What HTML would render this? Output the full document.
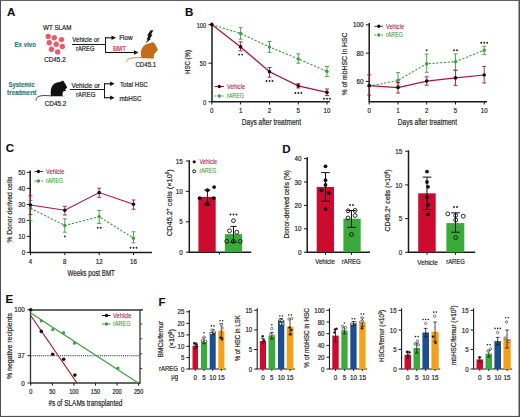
<!DOCTYPE html>
<html><head><meta charset="utf-8"><style>
html,body{margin:0;padding:0;background:#fff;}
svg{display:block;}
text{font-family:"Liberation Sans",sans-serif;}
</style></head><body>
<svg width="520" height="417" viewBox="0 0 520 417">
<rect width="520" height="417" fill="#fff"/>
<text transform="translate(6.9,16.1) scale(1.1,1)" x="0" y="0" font-size="10.5" fill="#111" text-anchor="start" stroke="#111" stroke-width="0.12" font-weight="bold">A</text>
<text x="43.1" y="29.9" font-size="7" fill="#262626" text-anchor="start" stroke="#262626" stroke-width="0.2" textLength="28.4" lengthAdjust="spacingAndGlyphs">WT SLAM</text>
<circle cx="48.2" cy="36.5" r="2.7" fill="#e85a6c" stroke="none" stroke-width="0"/>
<circle cx="54.3" cy="37.8" r="2.7" fill="#e85a6c" stroke="none" stroke-width="0"/>
<circle cx="61.5" cy="39.6" r="2.7" fill="#e85a6c" stroke="none" stroke-width="0"/>
<circle cx="49.2" cy="42.7" r="2.7" fill="#e85a6c" stroke="none" stroke-width="0"/>
<circle cx="56.2" cy="44.2" r="2.7" fill="#e85a6c" stroke="none" stroke-width="0"/>
<circle cx="62.3" cy="46.5" r="2.7" fill="#e85a6c" stroke="none" stroke-width="0"/>
<circle cx="51.5" cy="49.2" r="2.7" fill="#e85a6c" stroke="none" stroke-width="0"/>
<circle cx="57.7" cy="51.9" r="2.7" fill="#e85a6c" stroke="none" stroke-width="0"/>
<text x="44.2" y="62.0" font-size="7" fill="#262626" text-anchor="start" stroke="#262626" stroke-width="0.2" textLength="21.5" lengthAdjust="spacingAndGlyphs">CD45.2</text>
<text x="14.5" y="46.6" font-size="6.6" fill="#1e7a70" text-anchor="start" stroke="#1e7a70" stroke-width="0.12" font-weight="bold" textLength="21.5" lengthAdjust="spacingAndGlyphs">Ex vivo</text>
<line x1="72.0" y1="44.5" x2="105.5" y2="44.5" stroke="#1a1a1a" stroke-width="1.0" stroke-linecap="butt"/>
<text x="72.3" y="42.3" font-size="7" fill="#262626" text-anchor="start" stroke="#262626" stroke-width="0.2" textLength="26.9" lengthAdjust="spacingAndGlyphs">Vehicle or</text>
<text x="76.0" y="51.2" font-size="7" fill="#262626" text-anchor="start" stroke="#262626" stroke-width="0.2" textLength="18.6" lengthAdjust="spacingAndGlyphs">rAREG</text>
<line x1="105.5" y1="37.3" x2="105.5" y2="53.0" stroke="#1a1a1a" stroke-width="1.0" stroke-linecap="butt"/>
<line x1="105.0" y1="37.8" x2="112.5" y2="37.8" stroke="#111" stroke-width="1.1" stroke-linecap="butt"/>
<path d="M116.0,37.8 L111.5,35.599999999999994 L111.5,40.0 Z" fill="#111" stroke="none" stroke-width="1" />
<line x1="105.0" y1="52.5" x2="135.0" y2="52.5" stroke="#111" stroke-width="1.1" stroke-linecap="butt"/>
<path d="M138.5,52.5 L134.0,50.3 L134.0,54.7 Z" fill="#111" stroke="none" stroke-width="1" />
<text x="119.2" y="40.2" font-size="7" fill="#262626" text-anchor="start" stroke="#262626" stroke-width="0.2" textLength="13.4" lengthAdjust="spacingAndGlyphs">Flow</text>
<text x="113.0" y="50.6" font-size="7" fill="#d2303c" text-anchor="start" stroke="#d2303c" stroke-width="0.2" textLength="13" lengthAdjust="spacingAndGlyphs">BMT</text>
<path d="M150.6,30.2 L153.4,30.2 L150.9,34.6 L152.6,34.6 L149.6,38.9 L151.0,38.9 L145.3,43.6 L147.9,39.6 L146.5,39.6 L148.6,35.6 L147.1,35.6 Z" fill="#111" stroke="none" stroke-width="1" />
<path d="M141.6,58.3 C140.5,55 140.5,50.5 142.1,48.2 C143.3,46 144.5,45 145.9,44.4 C147.8,43.5 149.3,43.2 150.7,43.3 C151.3,42.6 152,42.2 152.6,42.3 C153.5,42.4 154.2,42.8 154.5,43.4 C155.3,44.2 155.8,45 156.1,46 C156.8,47.3 157.5,48.6 157.9,49.8 C157.2,51 156.4,51.8 155.6,52.5 C155,53 154.4,53.5 154.2,54.2 C154,55.5 153.8,56.5 153.6,57.4 L154.8,58.4 Z" fill="#c46c1c" stroke="none" stroke-width="1" />
<path d="M141.8,57.7 C136,57.4 131,57.8 128.5,59 C127,59.8 126.5,61 126.6,62.2" fill="none" stroke="#c46c1c" stroke-width="0.8" />
<text x="135.4" y="67.0" font-size="7" fill="#262626" text-anchor="start" stroke="#262626" stroke-width="0.2" textLength="20.8" lengthAdjust="spacingAndGlyphs">CD45.1</text>
<text x="8.5" y="86.9" font-size="6.6" fill="#1e7a70" text-anchor="start" stroke="#1e7a70" stroke-width="0.12" font-weight="bold" textLength="26.0" lengthAdjust="spacingAndGlyphs">Systemic</text>
<text x="7.0" y="94.5" font-size="6.6" fill="#1e7a70" text-anchor="start" stroke="#1e7a70" stroke-width="0.12" font-weight="bold" textLength="29.5" lengthAdjust="spacingAndGlyphs">treatment</text>
<path d="M51.2,96.3 C50.4,94 50.5,89.5 51.6,87.3 C52.4,85.6 53.2,84.6 54.3,83.8 C55.5,83 56.8,82.5 58.2,82.3 C59.5,82 60.5,81.8 61.6,81.2 C62.3,80.6 63.2,80.7 63.6,81.2 C64.2,81.8 64.5,82.5 64.7,83.1 C65.3,83.9 65.8,84.6 66.2,85.4 C66.6,86.2 67,87 67.2,87.7 C66.5,88.4 65.8,88.8 65.1,89.2 C65.5,89.7 65.9,90.3 65.8,90.8 C64.9,91.2 64,91.3 63.2,91.5 C62.8,92.5 62.5,93.4 62.4,94.2 C62.4,95 62.6,95.6 62.8,96 L64.6,96.3 Z" fill="#111" stroke="none" stroke-width="1" />
<path d="M51.5,95.9 C46,95.4 41,95.3 38.5,96.5 C36.5,97.5 35.8,99 36.3,100.6" fill="none" stroke="#111" stroke-width="0.8" />
<text x="44.8" y="105.6" font-size="7" fill="#262626" text-anchor="start" stroke="#262626" stroke-width="0.2" textLength="21.4" lengthAdjust="spacingAndGlyphs">CD45.2</text>
<line x1="70.0" y1="89.5" x2="104.5" y2="89.5" stroke="#1a1a1a" stroke-width="1.0" stroke-linecap="butt"/>
<text x="71.5" y="87.5" font-size="7" fill="#262626" text-anchor="start" stroke="#262626" stroke-width="0.2" textLength="28.5" lengthAdjust="spacingAndGlyphs">Vehicle or</text>
<text x="76.0" y="97.0" font-size="7" fill="#262626" text-anchor="start" stroke="#262626" stroke-width="0.2" textLength="19.4" lengthAdjust="spacingAndGlyphs">rAREG</text>
<line x1="104.5" y1="83.3" x2="104.5" y2="98.2" stroke="#1a1a1a" stroke-width="1.0" stroke-linecap="butt"/>
<line x1="104.0" y1="83.8" x2="111.1" y2="83.8" stroke="#111" stroke-width="1.1" stroke-linecap="butt"/>
<path d="M114.6,83.8 L110.1,81.6 L110.1,86.0 Z" fill="#111" stroke="none" stroke-width="1" />
<line x1="104.0" y1="97.7" x2="111.1" y2="97.7" stroke="#111" stroke-width="1.1" stroke-linecap="butt"/>
<path d="M114.6,97.7 L110.1,95.5 L110.1,99.9 Z" fill="#111" stroke="none" stroke-width="1" />
<text x="120.0" y="87.2" font-size="7" fill="#262626" text-anchor="start" stroke="#262626" stroke-width="0.2" textLength="27.7" lengthAdjust="spacingAndGlyphs">Total HSC</text>
<text x="119.5" y="100.5" font-size="7" fill="#262626" text-anchor="start" stroke="#262626" stroke-width="0.2" textLength="22" lengthAdjust="spacingAndGlyphs">mbHSC</text>
<text transform="translate(184.9,16.2) scale(1.1,1)" x="0" y="0" font-size="10.5" fill="#111" text-anchor="start" stroke="#111" stroke-width="0.12" font-weight="bold">B</text>
<line x1="212" y1="22.5" x2="212" y2="101.8" stroke="#1a1a1a" stroke-width="1.5" stroke-linecap="butt"/>
<line x1="211.4" y1="101.8" x2="330" y2="101.8" stroke="#1a1a1a" stroke-width="1.5" stroke-linecap="butt"/>
<line x1="208.5" y1="24.6" x2="212" y2="24.6" stroke="#1a1a1a" stroke-width="1.0" stroke-linecap="butt"/>
<text x="206.0" y="27.6" font-size="7" fill="#262626" text-anchor="end" stroke="#262626" stroke-width="0.2" textLength="9.3" lengthAdjust="spacingAndGlyphs">100</text>
<line x1="208.5" y1="63.2" x2="212" y2="63.2" stroke="#1a1a1a" stroke-width="1.0" stroke-linecap="butt"/>
<text x="206.0" y="66.2" font-size="7" fill="#262626" text-anchor="end" stroke="#262626" stroke-width="0.2" textLength="6.2" lengthAdjust="spacingAndGlyphs">50</text>
<line x1="208.5" y1="101.8" x2="212" y2="101.8" stroke="#1a1a1a" stroke-width="1.0" stroke-linecap="butt"/>
<text x="206.0" y="104.8" font-size="7" fill="#262626" text-anchor="end" stroke="#262626" stroke-width="0.2" textLength="3.1" lengthAdjust="spacingAndGlyphs">0</text>
<line x1="211.8" y1="101.8" x2="211.8" y2="104.5" stroke="#1a1a1a" stroke-width="1.0" stroke-linecap="butt"/>
<text x="211.8" y="113.3" font-size="7" fill="#262626" text-anchor="middle" stroke="#262626" stroke-width="0.2" textLength="3.4" lengthAdjust="spacingAndGlyphs">0</text>
<line x1="240.6" y1="101.8" x2="240.6" y2="104.5" stroke="#1a1a1a" stroke-width="1.0" stroke-linecap="butt"/>
<text x="240.6" y="113.3" font-size="7" fill="#262626" text-anchor="middle" stroke="#262626" stroke-width="0.2" textLength="3.4" lengthAdjust="spacingAndGlyphs">1</text>
<line x1="269.5" y1="101.8" x2="269.5" y2="104.5" stroke="#1a1a1a" stroke-width="1.0" stroke-linecap="butt"/>
<text x="269.5" y="113.3" font-size="7" fill="#262626" text-anchor="middle" stroke="#262626" stroke-width="0.2" textLength="3.4" lengthAdjust="spacingAndGlyphs">2</text>
<line x1="298.3" y1="101.8" x2="298.3" y2="104.5" stroke="#1a1a1a" stroke-width="1.0" stroke-linecap="butt"/>
<text x="298.3" y="113.3" font-size="7" fill="#262626" text-anchor="middle" stroke="#262626" stroke-width="0.2" textLength="3.4" lengthAdjust="spacingAndGlyphs">5</text>
<line x1="327.0" y1="101.8" x2="327.0" y2="104.5" stroke="#1a1a1a" stroke-width="1.0" stroke-linecap="butt"/>
<text x="327.0" y="113.3" font-size="7" fill="#262626" text-anchor="middle" stroke="#262626" stroke-width="0.2" textLength="6.8" lengthAdjust="spacingAndGlyphs">10</text>
<text x="271.4" y="125.0" font-size="8.5" fill="#262626" text-anchor="middle" stroke="#262626" stroke-width="0.2" textLength="59.2" lengthAdjust="spacingAndGlyphs">Days after treatment</text>
<text transform="translate(190.4,62) rotate(-90)" x="0" y="0" font-size="8" fill="#262626" text-anchor="middle" stroke="#262626" stroke-width="0.2" textLength="24" lengthAdjust="spacingAndGlyphs">HSC (%)</text>
<polyline points="211.8,24.6 240.6,33.5 269.5,47.0 298.3,58.9 327.0,71.4" fill="none" stroke="#3c9e3c" stroke-width="1.1" stroke-dasharray="2.2,1.6"/>
<line x1="240.6" y1="27.7" x2="240.6" y2="39.2" stroke="#3c9e3c" stroke-width="0.9" stroke-linecap="butt"/>
<line x1="238.6" y1="27.7" x2="242.6" y2="27.7" stroke="#3c9e3c" stroke-width="0.9" stroke-linecap="butt"/>
<line x1="238.6" y1="39.2" x2="242.6" y2="39.2" stroke="#3c9e3c" stroke-width="0.9" stroke-linecap="butt"/>
<line x1="269.5" y1="41.6" x2="269.5" y2="52.4" stroke="#3c9e3c" stroke-width="0.9" stroke-linecap="butt"/>
<line x1="267.5" y1="41.6" x2="271.5" y2="41.6" stroke="#3c9e3c" stroke-width="0.9" stroke-linecap="butt"/>
<line x1="267.5" y1="52.4" x2="271.5" y2="52.4" stroke="#3c9e3c" stroke-width="0.9" stroke-linecap="butt"/>
<line x1="298.3" y1="53.9" x2="298.3" y2="63.2" stroke="#3c9e3c" stroke-width="0.9" stroke-linecap="butt"/>
<line x1="296.3" y1="53.9" x2="300.3" y2="53.9" stroke="#3c9e3c" stroke-width="0.9" stroke-linecap="butt"/>
<line x1="296.3" y1="63.2" x2="300.3" y2="63.2" stroke="#3c9e3c" stroke-width="0.9" stroke-linecap="butt"/>
<line x1="327.0" y1="66.4" x2="327.0" y2="76.6" stroke="#3c9e3c" stroke-width="0.9" stroke-linecap="butt"/>
<line x1="325.0" y1="66.4" x2="329.0" y2="66.4" stroke="#3c9e3c" stroke-width="0.9" stroke-linecap="butt"/>
<line x1="325.0" y1="76.6" x2="329.0" y2="76.6" stroke="#3c9e3c" stroke-width="0.9" stroke-linecap="butt"/>
<circle cx="211.8" cy="24.6" r="1.7" fill="#3c9e3c" stroke="none" stroke-width="0"/>
<circle cx="240.6" cy="33.5" r="1.7" fill="#3c9e3c" stroke="none" stroke-width="0"/>
<circle cx="269.5" cy="47.0" r="1.7" fill="#3c9e3c" stroke="none" stroke-width="0"/>
<circle cx="298.3" cy="58.9" r="1.7" fill="#3c9e3c" stroke="none" stroke-width="0"/>
<circle cx="327.0" cy="71.4" r="1.7" fill="#3c9e3c" stroke="none" stroke-width="0"/>
<polyline points="211.8,24.6 240.6,46.9 269.5,71.8 298.3,85.9 327.0,92.4" fill="none" stroke="#a8163a" stroke-width="1.3"/>
<line x1="240.6" y1="41.8" x2="240.6" y2="50.8" stroke="#a8163a" stroke-width="0.9" stroke-linecap="butt"/>
<line x1="238.6" y1="41.8" x2="242.6" y2="41.8" stroke="#a8163a" stroke-width="0.9" stroke-linecap="butt"/>
<line x1="238.6" y1="50.8" x2="242.6" y2="50.8" stroke="#a8163a" stroke-width="0.9" stroke-linecap="butt"/>
<line x1="269.5" y1="67.5" x2="269.5" y2="77.2" stroke="#a8163a" stroke-width="0.9" stroke-linecap="butt"/>
<line x1="267.5" y1="67.5" x2="271.5" y2="67.5" stroke="#a8163a" stroke-width="0.9" stroke-linecap="butt"/>
<line x1="267.5" y1="77.2" x2="271.5" y2="77.2" stroke="#a8163a" stroke-width="0.9" stroke-linecap="butt"/>
<line x1="298.3" y1="83.7" x2="298.3" y2="88.0" stroke="#a8163a" stroke-width="0.9" stroke-linecap="butt"/>
<line x1="296.3" y1="83.7" x2="300.3" y2="83.7" stroke="#a8163a" stroke-width="0.9" stroke-linecap="butt"/>
<line x1="296.3" y1="88.0" x2="300.3" y2="88.0" stroke="#a8163a" stroke-width="0.9" stroke-linecap="butt"/>
<line x1="327.0" y1="89.0" x2="327.0" y2="95.6" stroke="#a8163a" stroke-width="0.9" stroke-linecap="butt"/>
<line x1="325.0" y1="89.0" x2="329.0" y2="89.0" stroke="#a8163a" stroke-width="0.9" stroke-linecap="butt"/>
<line x1="325.0" y1="95.6" x2="329.0" y2="95.6" stroke="#a8163a" stroke-width="0.9" stroke-linecap="butt"/>
<circle cx="211.8" cy="24.6" r="1.8" fill="#111" stroke="none" stroke-width="0"/>
<circle cx="240.6" cy="46.9" r="1.8" fill="#111" stroke="none" stroke-width="0"/>
<circle cx="269.5" cy="71.8" r="1.8" fill="#111" stroke="none" stroke-width="0"/>
<circle cx="298.3" cy="85.9" r="1.8" fill="#111" stroke="none" stroke-width="0"/>
<circle cx="327.0" cy="92.4" r="1.8" fill="#111" stroke="none" stroke-width="0"/>
<circle cx="239.1" cy="54.6" r="0.95" fill="#222" stroke="none" stroke-width="0"/>
<circle cx="242.1" cy="54.6" r="0.95" fill="#222" stroke="none" stroke-width="0"/>
<circle cx="266.5" cy="81" r="0.95" fill="#222" stroke="none" stroke-width="0"/>
<circle cx="269.5" cy="81" r="0.95" fill="#222" stroke="none" stroke-width="0"/>
<circle cx="272.5" cy="81" r="0.95" fill="#222" stroke="none" stroke-width="0"/>
<circle cx="295.3" cy="93" r="0.95" fill="#222" stroke="none" stroke-width="0"/>
<circle cx="298.3" cy="93" r="0.95" fill="#222" stroke="none" stroke-width="0"/>
<circle cx="301.3" cy="93" r="0.95" fill="#222" stroke="none" stroke-width="0"/>
<circle cx="324.0" cy="98.8" r="0.95" fill="#222" stroke="none" stroke-width="0"/>
<circle cx="327.0" cy="98.8" r="0.95" fill="#222" stroke="none" stroke-width="0"/>
<circle cx="330.0" cy="98.8" r="0.95" fill="#222" stroke="none" stroke-width="0"/>
<line x1="214.5" y1="86.5" x2="224" y2="86.5" stroke="#a8163a" stroke-width="1.0" stroke-linecap="butt"/>
<circle cx="219.3" cy="86.5" r="1.7" fill="#111" stroke="none" stroke-width="0"/>
<text x="227" y="88.8" font-size="6.5" fill="#a8163a" text-anchor="start" stroke="#a8163a" stroke-width="0.1" textLength="18" lengthAdjust="spacingAndGlyphs">Vehicle</text>
<line x1="214.5" y1="96.0" x2="224" y2="96.0" stroke="#3c9e3c" stroke-width="1.0" stroke-dasharray="2,1.5" stroke-linecap="butt"/>
<circle cx="219.3" cy="96.0" r="1.7" fill="#3c9e3c" stroke="none" stroke-width="0"/>
<text x="227" y="98.3" font-size="6.5" fill="#3c9e3c" text-anchor="start" stroke="#3c9e3c" stroke-width="0.1" textLength="17" lengthAdjust="spacingAndGlyphs">rAREG</text>
<line x1="369.2" y1="23.0" x2="369.2" y2="101.8" stroke="#1a1a1a" stroke-width="1.5" stroke-linecap="butt"/>
<line x1="368.6" y1="101.8" x2="487" y2="101.8" stroke="#1a1a1a" stroke-width="1.5" stroke-linecap="butt"/>
<line x1="365.8" y1="24.8" x2="369.2" y2="24.8" stroke="#1a1a1a" stroke-width="1.0" stroke-linecap="butt"/>
<text x="363.5" y="27.400000000000002" font-size="7" fill="#262626" text-anchor="end" stroke="#262626" stroke-width="0.2" textLength="10.5" lengthAdjust="spacingAndGlyphs">100</text>
<line x1="365.8" y1="53.1" x2="369.2" y2="53.1" stroke="#1a1a1a" stroke-width="1.0" stroke-linecap="butt"/>
<text x="363.5" y="55.7" font-size="7" fill="#262626" text-anchor="end" stroke="#262626" stroke-width="0.2" textLength="7.0" lengthAdjust="spacingAndGlyphs">80</text>
<line x1="365.8" y1="81.4" x2="369.2" y2="81.4" stroke="#1a1a1a" stroke-width="1.0" stroke-linecap="butt"/>
<text x="363.5" y="84.0" font-size="7" fill="#262626" text-anchor="end" stroke="#262626" stroke-width="0.2" textLength="7.0" lengthAdjust="spacingAndGlyphs">60</text>
<line x1="369.2" y1="101.8" x2="369.2" y2="104.5" stroke="#1a1a1a" stroke-width="1.0" stroke-linecap="butt"/>
<text x="369.2" y="113.3" font-size="7" fill="#262626" text-anchor="middle" stroke="#262626" stroke-width="0.2" textLength="3.4" lengthAdjust="spacingAndGlyphs">0</text>
<line x1="398.0" y1="101.8" x2="398.0" y2="104.5" stroke="#1a1a1a" stroke-width="1.0" stroke-linecap="butt"/>
<text x="398.0" y="113.3" font-size="7" fill="#262626" text-anchor="middle" stroke="#262626" stroke-width="0.2" textLength="3.4" lengthAdjust="spacingAndGlyphs">1</text>
<line x1="426.7" y1="101.8" x2="426.7" y2="104.5" stroke="#1a1a1a" stroke-width="1.0" stroke-linecap="butt"/>
<text x="426.7" y="113.3" font-size="7" fill="#262626" text-anchor="middle" stroke="#262626" stroke-width="0.2" textLength="3.4" lengthAdjust="spacingAndGlyphs">2</text>
<line x1="455.5" y1="101.8" x2="455.5" y2="104.5" stroke="#1a1a1a" stroke-width="1.0" stroke-linecap="butt"/>
<text x="455.5" y="113.3" font-size="7" fill="#262626" text-anchor="middle" stroke="#262626" stroke-width="0.2" textLength="3.4" lengthAdjust="spacingAndGlyphs">5</text>
<line x1="484.2" y1="101.8" x2="484.2" y2="104.5" stroke="#1a1a1a" stroke-width="1.0" stroke-linecap="butt"/>
<text x="484.2" y="113.3" font-size="7" fill="#262626" text-anchor="middle" stroke="#262626" stroke-width="0.2" textLength="6.8" lengthAdjust="spacingAndGlyphs">10</text>
<text x="427.4" y="125.0" font-size="8.5" fill="#262626" text-anchor="middle" stroke="#262626" stroke-width="0.2" textLength="59.2" lengthAdjust="spacingAndGlyphs">Days after treatment</text>
<text transform="translate(347.0,64) rotate(-90)" x="0" y="0" font-size="8" fill="#262626" text-anchor="middle" stroke="#262626" stroke-width="0.2" textLength="63" lengthAdjust="spacingAndGlyphs">% of mbHSC in HSC</text>
<polyline points="369.2,86.3 398.0,80.4 426.7,63.8 455.5,61.7 484.2,50.2" fill="none" stroke="#3c9e3c" stroke-width="1.1" stroke-dasharray="2.2,1.6"/>
<line x1="398.0" y1="72.6" x2="398.0" y2="86" stroke="#3c9e3c" stroke-width="0.9" stroke-linecap="butt"/>
<line x1="396.0" y1="72.6" x2="400.0" y2="72.6" stroke="#3c9e3c" stroke-width="0.9" stroke-linecap="butt"/>
<line x1="396.0" y1="86" x2="400.0" y2="86" stroke="#3c9e3c" stroke-width="0.9" stroke-linecap="butt"/>
<line x1="426.7" y1="54.1" x2="426.7" y2="72.3" stroke="#3c9e3c" stroke-width="0.9" stroke-linecap="butt"/>
<line x1="424.7" y1="54.1" x2="428.7" y2="54.1" stroke="#3c9e3c" stroke-width="0.9" stroke-linecap="butt"/>
<line x1="424.7" y1="72.3" x2="428.7" y2="72.3" stroke="#3c9e3c" stroke-width="0.9" stroke-linecap="butt"/>
<line x1="455.5" y1="53.9" x2="455.5" y2="70.1" stroke="#3c9e3c" stroke-width="0.9" stroke-linecap="butt"/>
<line x1="453.5" y1="53.9" x2="457.5" y2="53.9" stroke="#3c9e3c" stroke-width="0.9" stroke-linecap="butt"/>
<line x1="453.5" y1="70.1" x2="457.5" y2="70.1" stroke="#3c9e3c" stroke-width="0.9" stroke-linecap="butt"/>
<line x1="484.2" y1="46.3" x2="484.2" y2="54.6" stroke="#3c9e3c" stroke-width="0.9" stroke-linecap="butt"/>
<line x1="482.2" y1="46.3" x2="486.2" y2="46.3" stroke="#3c9e3c" stroke-width="0.9" stroke-linecap="butt"/>
<line x1="482.2" y1="54.6" x2="486.2" y2="54.6" stroke="#3c9e3c" stroke-width="0.9" stroke-linecap="butt"/>
<circle cx="369.2" cy="86.3" r="1.7" fill="#3c9e3c" stroke="none" stroke-width="0"/>
<circle cx="398.0" cy="80.4" r="1.7" fill="#3c9e3c" stroke="none" stroke-width="0"/>
<circle cx="426.7" cy="63.8" r="1.7" fill="#3c9e3c" stroke="none" stroke-width="0"/>
<circle cx="455.5" cy="61.7" r="1.7" fill="#3c9e3c" stroke="none" stroke-width="0"/>
<circle cx="484.2" cy="50.2" r="1.7" fill="#3c9e3c" stroke="none" stroke-width="0"/>
<polyline points="369.2,85.6 398.0,87.6 426.7,81.1 455.5,77.9 484.2,75.0" fill="none" stroke="#a8163a" stroke-width="1.1"/>
<line x1="369.2" y1="74.8" x2="369.2" y2="95.2" stroke="#a8163a" stroke-width="0.9" stroke-linecap="butt"/>
<line x1="367.2" y1="74.8" x2="371.2" y2="74.8" stroke="#a8163a" stroke-width="0.9" stroke-linecap="butt"/>
<line x1="367.2" y1="95.2" x2="371.2" y2="95.2" stroke="#a8163a" stroke-width="0.9" stroke-linecap="butt"/>
<line x1="398.0" y1="82.5" x2="398.0" y2="93.0" stroke="#a8163a" stroke-width="0.9" stroke-linecap="butt"/>
<line x1="396.0" y1="82.5" x2="400.0" y2="82.5" stroke="#a8163a" stroke-width="0.9" stroke-linecap="butt"/>
<line x1="396.0" y1="93.0" x2="400.0" y2="93.0" stroke="#a8163a" stroke-width="0.9" stroke-linecap="butt"/>
<line x1="426.7" y1="76.8" x2="426.7" y2="85.2" stroke="#a8163a" stroke-width="0.9" stroke-linecap="butt"/>
<line x1="424.7" y1="76.8" x2="428.7" y2="76.8" stroke="#a8163a" stroke-width="0.9" stroke-linecap="butt"/>
<line x1="424.7" y1="85.2" x2="428.7" y2="85.2" stroke="#a8163a" stroke-width="0.9" stroke-linecap="butt"/>
<line x1="455.5" y1="70.3" x2="455.5" y2="85.4" stroke="#a8163a" stroke-width="0.9" stroke-linecap="butt"/>
<line x1="453.5" y1="70.3" x2="457.5" y2="70.3" stroke="#a8163a" stroke-width="0.9" stroke-linecap="butt"/>
<line x1="453.5" y1="85.4" x2="457.5" y2="85.4" stroke="#a8163a" stroke-width="0.9" stroke-linecap="butt"/>
<line x1="484.2" y1="66.4" x2="484.2" y2="83.0" stroke="#a8163a" stroke-width="0.9" stroke-linecap="butt"/>
<line x1="482.2" y1="66.4" x2="486.2" y2="66.4" stroke="#a8163a" stroke-width="0.9" stroke-linecap="butt"/>
<line x1="482.2" y1="83.0" x2="486.2" y2="83.0" stroke="#a8163a" stroke-width="0.9" stroke-linecap="butt"/>
<circle cx="369.2" cy="85.6" r="1.8" fill="#111" stroke="none" stroke-width="0"/>
<circle cx="398.0" cy="87.6" r="1.8" fill="#111" stroke="none" stroke-width="0"/>
<circle cx="426.7" cy="81.1" r="1.8" fill="#111" stroke="none" stroke-width="0"/>
<circle cx="455.5" cy="77.9" r="1.8" fill="#111" stroke="none" stroke-width="0"/>
<circle cx="484.2" cy="75.0" r="1.8" fill="#111" stroke="none" stroke-width="0"/>
<circle cx="426.7" cy="50.2" r="0.95" fill="#222" stroke="none" stroke-width="0"/>
<circle cx="454.0" cy="50.2" r="0.95" fill="#222" stroke="none" stroke-width="0"/>
<circle cx="457.0" cy="50.2" r="0.95" fill="#222" stroke="none" stroke-width="0"/>
<circle cx="481.2" cy="42.7" r="0.95" fill="#222" stroke="none" stroke-width="0"/>
<circle cx="484.2" cy="42.7" r="0.95" fill="#222" stroke="none" stroke-width="0"/>
<circle cx="487.2" cy="42.7" r="0.95" fill="#222" stroke="none" stroke-width="0"/>
<line x1="374.3" y1="26.3" x2="383" y2="26.3" stroke="#a8163a" stroke-width="1.0" stroke-linecap="butt"/>
<circle cx="378.8" cy="26.3" r="1.7" fill="#111" stroke="none" stroke-width="0"/>
<text x="386" y="28.6" font-size="6.5" fill="#a8163a" text-anchor="start" stroke="#a8163a" stroke-width="0.1" textLength="18" lengthAdjust="spacingAndGlyphs">Vehicle</text>
<line x1="374.3" y1="35.0" x2="383" y2="35.0" stroke="#3c9e3c" stroke-width="1.0" stroke-dasharray="2,1.5" stroke-linecap="butt"/>
<circle cx="378.8" cy="35.0" r="1.7" fill="#3c9e3c" stroke="none" stroke-width="0"/>
<text x="386" y="37.3" font-size="6.5" fill="#3c9e3c" text-anchor="start" stroke="#3c9e3c" stroke-width="0.1" textLength="17" lengthAdjust="spacingAndGlyphs">rAREG</text>
<text transform="translate(5.8,152.3) scale(1.1,1)" x="0" y="0" font-size="10.5" fill="#111" text-anchor="start" stroke="#111" stroke-width="0.12" font-weight="bold">C</text>
<line x1="30.2" y1="170.5" x2="30.2" y2="252.4" stroke="#1a1a1a" stroke-width="1.5" stroke-linecap="butt"/>
<line x1="29.6" y1="252.4" x2="152" y2="252.4" stroke="#1a1a1a" stroke-width="1.5" stroke-linecap="butt"/>
<line x1="26.8" y1="252.4" x2="30.2" y2="252.4" stroke="#1a1a1a" stroke-width="1.0" stroke-linecap="butt"/>
<text x="25.3" y="255.0" font-size="7" fill="#262626" text-anchor="end" stroke="#262626" stroke-width="0.2" textLength="3.5" lengthAdjust="spacingAndGlyphs">0</text>
<line x1="26.8" y1="236.4" x2="30.2" y2="236.4" stroke="#1a1a1a" stroke-width="1.0" stroke-linecap="butt"/>
<text x="25.3" y="239.0" font-size="7" fill="#262626" text-anchor="end" stroke="#262626" stroke-width="0.2" textLength="7.0" lengthAdjust="spacingAndGlyphs">10</text>
<line x1="26.8" y1="220.4" x2="30.2" y2="220.4" stroke="#1a1a1a" stroke-width="1.0" stroke-linecap="butt"/>
<text x="25.3" y="223.0" font-size="7" fill="#262626" text-anchor="end" stroke="#262626" stroke-width="0.2" textLength="7.0" lengthAdjust="spacingAndGlyphs">20</text>
<line x1="26.8" y1="204.4" x2="30.2" y2="204.4" stroke="#1a1a1a" stroke-width="1.0" stroke-linecap="butt"/>
<text x="25.3" y="207.0" font-size="7" fill="#262626" text-anchor="end" stroke="#262626" stroke-width="0.2" textLength="7.0" lengthAdjust="spacingAndGlyphs">30</text>
<line x1="26.8" y1="188.4" x2="30.2" y2="188.4" stroke="#1a1a1a" stroke-width="1.0" stroke-linecap="butt"/>
<text x="25.3" y="191.0" font-size="7" fill="#262626" text-anchor="end" stroke="#262626" stroke-width="0.2" textLength="7.0" lengthAdjust="spacingAndGlyphs">40</text>
<line x1="26.8" y1="172.4" x2="30.2" y2="172.4" stroke="#1a1a1a" stroke-width="1.0" stroke-linecap="butt"/>
<text x="25.3" y="175.0" font-size="7" fill="#262626" text-anchor="end" stroke="#262626" stroke-width="0.2" textLength="7.0" lengthAdjust="spacingAndGlyphs">50</text>
<line x1="30.5" y1="252.4" x2="30.5" y2="255.2" stroke="#1a1a1a" stroke-width="1.0" stroke-linecap="butt"/>
<text x="30.5" y="264.4" font-size="7" fill="#262626" text-anchor="middle" stroke="#262626" stroke-width="0.2" textLength="3.4" lengthAdjust="spacingAndGlyphs">4</text>
<line x1="64.8" y1="252.4" x2="64.8" y2="255.2" stroke="#1a1a1a" stroke-width="1.0" stroke-linecap="butt"/>
<text x="64.8" y="264.4" font-size="7" fill="#262626" text-anchor="middle" stroke="#262626" stroke-width="0.2" textLength="3.4" lengthAdjust="spacingAndGlyphs">8</text>
<line x1="99.2" y1="252.4" x2="99.2" y2="255.2" stroke="#1a1a1a" stroke-width="1.0" stroke-linecap="butt"/>
<text x="99.2" y="264.4" font-size="7" fill="#262626" text-anchor="middle" stroke="#262626" stroke-width="0.2" textLength="6.8" lengthAdjust="spacingAndGlyphs">12</text>
<line x1="133.5" y1="252.4" x2="133.5" y2="255.2" stroke="#1a1a1a" stroke-width="1.0" stroke-linecap="butt"/>
<text x="133.5" y="264.4" font-size="7" fill="#262626" text-anchor="middle" stroke="#262626" stroke-width="0.2" textLength="6.8" lengthAdjust="spacingAndGlyphs">16</text>
<text x="91.2" y="275.8" font-size="8.5" fill="#262626" text-anchor="middle" stroke="#262626" stroke-width="0.2" textLength="47.5" lengthAdjust="spacingAndGlyphs">Weeks post BMT</text>
<text transform="translate(12.4,209.7) rotate(-90)" x="0" y="0" font-size="8" fill="#262626" text-anchor="middle" stroke="#262626" stroke-width="0.2" textLength="66" lengthAdjust="spacingAndGlyphs">% Donor derived cells</text>
<polyline points="30.5,208.2 64.8,225.5 99.2,216.6 133.5,238.2" fill="none" stroke="#3c9e3c" stroke-width="1.1" stroke-dasharray="2.2,1.6"/>
<line x1="30.5" y1="200.5" x2="30.5" y2="220.7" stroke="#3c9e3c" stroke-width="0.9" stroke-linecap="butt"/>
<line x1="28.5" y1="200.5" x2="32.5" y2="200.5" stroke="#3c9e3c" stroke-width="0.9" stroke-linecap="butt"/>
<line x1="28.5" y1="220.7" x2="32.5" y2="220.7" stroke="#3c9e3c" stroke-width="0.9" stroke-linecap="butt"/>
<line x1="64.8" y1="218.8" x2="64.8" y2="232.2" stroke="#3c9e3c" stroke-width="0.9" stroke-linecap="butt"/>
<line x1="62.8" y1="218.8" x2="66.8" y2="218.8" stroke="#3c9e3c" stroke-width="0.9" stroke-linecap="butt"/>
<line x1="62.8" y1="232.2" x2="66.8" y2="232.2" stroke="#3c9e3c" stroke-width="0.9" stroke-linecap="butt"/>
<line x1="99.2" y1="210.5" x2="99.2" y2="223.5" stroke="#3c9e3c" stroke-width="0.9" stroke-linecap="butt"/>
<line x1="97.2" y1="210.5" x2="101.2" y2="210.5" stroke="#3c9e3c" stroke-width="0.9" stroke-linecap="butt"/>
<line x1="97.2" y1="223.5" x2="101.2" y2="223.5" stroke="#3c9e3c" stroke-width="0.9" stroke-linecap="butt"/>
<line x1="133.5" y1="231.8" x2="133.5" y2="242.9" stroke="#3c9e3c" stroke-width="0.9" stroke-linecap="butt"/>
<line x1="131.5" y1="231.8" x2="135.5" y2="231.8" stroke="#3c9e3c" stroke-width="0.9" stroke-linecap="butt"/>
<line x1="131.5" y1="242.9" x2="135.5" y2="242.9" stroke="#3c9e3c" stroke-width="0.9" stroke-linecap="butt"/>
<circle cx="30.5" cy="208.2" r="1.7" fill="#3c9e3c" stroke="none" stroke-width="0"/>
<circle cx="64.8" cy="225.5" r="1.7" fill="#3c9e3c" stroke="none" stroke-width="0"/>
<circle cx="99.2" cy="216.6" r="1.7" fill="#3c9e3c" stroke="none" stroke-width="0"/>
<circle cx="133.5" cy="238.2" r="1.7" fill="#3c9e3c" stroke="none" stroke-width="0"/>
<polyline points="30.5,205.0 64.8,210.2 99.2,192.6 133.5,204.2" fill="none" stroke="#a8163a" stroke-width="1.1"/>
<line x1="30.5" y1="195.8" x2="30.5" y2="214.6" stroke="#a8163a" stroke-width="0.9" stroke-linecap="butt"/>
<line x1="28.5" y1="195.8" x2="32.5" y2="195.8" stroke="#a8163a" stroke-width="0.9" stroke-linecap="butt"/>
<line x1="28.5" y1="214.6" x2="32.5" y2="214.6" stroke="#a8163a" stroke-width="0.9" stroke-linecap="butt"/>
<line x1="64.8" y1="206.3" x2="64.8" y2="215.0" stroke="#a8163a" stroke-width="0.9" stroke-linecap="butt"/>
<line x1="62.8" y1="206.3" x2="66.8" y2="206.3" stroke="#a8163a" stroke-width="0.9" stroke-linecap="butt"/>
<line x1="62.8" y1="215.0" x2="66.8" y2="215.0" stroke="#a8163a" stroke-width="0.9" stroke-linecap="butt"/>
<line x1="99.2" y1="188.2" x2="99.2" y2="197.3" stroke="#a8163a" stroke-width="0.9" stroke-linecap="butt"/>
<line x1="97.2" y1="188.2" x2="101.2" y2="188.2" stroke="#a8163a" stroke-width="0.9" stroke-linecap="butt"/>
<line x1="97.2" y1="197.3" x2="101.2" y2="197.3" stroke="#a8163a" stroke-width="0.9" stroke-linecap="butt"/>
<line x1="133.5" y1="200.0" x2="133.5" y2="209.2" stroke="#a8163a" stroke-width="0.9" stroke-linecap="butt"/>
<line x1="131.5" y1="200.0" x2="135.5" y2="200.0" stroke="#a8163a" stroke-width="0.9" stroke-linecap="butt"/>
<line x1="131.5" y1="209.2" x2="135.5" y2="209.2" stroke="#a8163a" stroke-width="0.9" stroke-linecap="butt"/>
<circle cx="30.5" cy="205.0" r="1.8" fill="#111" stroke="none" stroke-width="0"/>
<circle cx="64.8" cy="210.2" r="1.8" fill="#111" stroke="none" stroke-width="0"/>
<circle cx="99.2" cy="192.6" r="1.8" fill="#111" stroke="none" stroke-width="0"/>
<circle cx="133.5" cy="204.2" r="1.8" fill="#111" stroke="none" stroke-width="0"/>
<circle cx="64.8" cy="236.4" r="0.95" fill="#222" stroke="none" stroke-width="0"/>
<circle cx="97.7" cy="227.7" r="0.95" fill="#222" stroke="none" stroke-width="0"/>
<circle cx="100.7" cy="227.7" r="0.95" fill="#222" stroke="none" stroke-width="0"/>
<circle cx="130.5" cy="247.8" r="0.95" fill="#222" stroke="none" stroke-width="0"/>
<circle cx="133.5" cy="247.8" r="0.95" fill="#222" stroke="none" stroke-width="0"/>
<circle cx="136.5" cy="247.8" r="0.95" fill="#222" stroke="none" stroke-width="0"/>
<line x1="34.5" y1="171.5" x2="43.2" y2="171.5" stroke="#a8163a" stroke-width="1.0" stroke-linecap="butt"/>
<circle cx="38.4" cy="171.5" r="1.7" fill="#111" stroke="none" stroke-width="0"/>
<text x="46" y="173.8" font-size="6.5" fill="#a8163a" text-anchor="start" stroke="#a8163a" stroke-width="0.1" textLength="18.3" lengthAdjust="spacingAndGlyphs">Vehicle</text>
<line x1="34.5" y1="181.0" x2="43.2" y2="181.0" stroke="#3c9e3c" stroke-width="1.0" stroke-dasharray="2,1.5" stroke-linecap="butt"/>
<circle cx="38.4" cy="181.0" r="1.7" fill="#3c9e3c" stroke="none" stroke-width="0"/>
<text x="46" y="183.3" font-size="6.5" fill="#3c9e3c" text-anchor="start" stroke="#3c9e3c" stroke-width="0.1" textLength="17" lengthAdjust="spacingAndGlyphs">rAREG</text>
<line x1="189.3" y1="160.3" x2="189.3" y2="252.3" stroke="#1a1a1a" stroke-width="1.5" stroke-linecap="butt"/>
<line x1="188.7" y1="252.2" x2="251.3" y2="252.2" stroke="#1a1a1a" stroke-width="1.5" stroke-linecap="butt"/>
<line x1="186" y1="252.2" x2="189.3" y2="252.2" stroke="#1a1a1a" stroke-width="1.0" stroke-linecap="butt"/>
<text x="182.8" y="254.79999999999998" font-size="7" fill="#262626" text-anchor="end" stroke="#262626" stroke-width="0.2" textLength="3.5" lengthAdjust="spacingAndGlyphs">0</text>
<line x1="186" y1="221.79999999999998" x2="189.3" y2="221.79999999999998" stroke="#1a1a1a" stroke-width="1.0" stroke-linecap="butt"/>
<text x="182.8" y="224.39999999999998" font-size="7" fill="#262626" text-anchor="end" stroke="#262626" stroke-width="0.2" textLength="3.5" lengthAdjust="spacingAndGlyphs">5</text>
<line x1="186" y1="191.39999999999998" x2="189.3" y2="191.39999999999998" stroke="#1a1a1a" stroke-width="1.0" stroke-linecap="butt"/>
<text x="182.8" y="193.99999999999997" font-size="7" fill="#262626" text-anchor="end" stroke="#262626" stroke-width="0.2" textLength="7.0" lengthAdjust="spacingAndGlyphs">10</text>
<line x1="186" y1="161.0" x2="189.3" y2="161.0" stroke="#1a1a1a" stroke-width="1.0" stroke-linecap="butt"/>
<text x="182.8" y="163.6" font-size="7" fill="#262626" text-anchor="end" stroke="#262626" stroke-width="0.2" textLength="7.0" lengthAdjust="spacingAndGlyphs">15</text>
<line x1="219.5" y1="252.2" x2="219.5" y2="254.5" stroke="#1a1a1a" stroke-width="1.0" stroke-linecap="butt"/>
<rect x="198.4" y="196.9" width="17.3" height="55.3" fill="#cc0c2f"/>
<rect x="224.9" y="234.1" width="17.2" height="18.1" fill="#3aaa3a"/>
<line x1="207.4" y1="190.0" x2="207.4" y2="205.0" stroke="#111" stroke-width="1.0" stroke-linecap="butt"/>
<line x1="204.20000000000002" y1="190.0" x2="210.6" y2="190.0" stroke="#111" stroke-width="1.0" stroke-linecap="butt"/>
<line x1="204.20000000000002" y1="205.0" x2="210.6" y2="205.0" stroke="#111" stroke-width="1.0" stroke-linecap="butt"/>
<line x1="233.5" y1="226.4" x2="233.5" y2="242.3" stroke="#111" stroke-width="1.0" stroke-linecap="butt"/>
<line x1="230.3" y1="226.4" x2="236.7" y2="226.4" stroke="#111" stroke-width="1.0" stroke-linecap="butt"/>
<line x1="230.3" y1="242.3" x2="236.7" y2="242.3" stroke="#111" stroke-width="1.0" stroke-linecap="butt"/>
<circle cx="199.6" cy="198.2" r="1.9" fill="#111" stroke="none" stroke-width="0"/>
<circle cx="207.4" cy="190.2" r="1.9" fill="#111" stroke="none" stroke-width="0"/>
<circle cx="214.1" cy="187.1" r="1.9" fill="#111" stroke="none" stroke-width="0"/>
<circle cx="207.4" cy="203.4" r="1.9" fill="#111" stroke="none" stroke-width="0"/>
<circle cx="213.6" cy="198.2" r="1.9" fill="#111" stroke="none" stroke-width="0"/>
<circle cx="233.5" cy="220.7" r="1.95" fill="none" stroke="#111" stroke-width="0.9"/>
<circle cx="229.5" cy="230.8" r="1.95" fill="none" stroke="#111" stroke-width="0.9"/>
<circle cx="236.8" cy="232.2" r="1.95" fill="none" stroke="#111" stroke-width="0.9"/>
<circle cx="226.8" cy="241.4" r="1.95" fill="none" stroke="#111" stroke-width="0.9"/>
<circle cx="233.5" cy="241.4" r="1.95" fill="none" stroke="#111" stroke-width="0.9"/>
<circle cx="240.2" cy="241.4" r="1.95" fill="none" stroke="#111" stroke-width="0.9"/>
<circle cx="230.5" cy="214.5" r="0.95" fill="#222" stroke="none" stroke-width="0"/>
<circle cx="233.5" cy="214.5" r="0.95" fill="#222" stroke="none" stroke-width="0"/>
<circle cx="236.5" cy="214.5" r="0.95" fill="#222" stroke="none" stroke-width="0"/>
<text transform="translate(171.6,202.7) rotate(-90)" x="0" y="0" font-size="7.5" fill="#262626" text-anchor="middle" stroke="#262626" stroke-width="0.2" textLength="67" lengthAdjust="spacingAndGlyphs">CD45.2<tspan font-size="4.5" dy="-2.5">+</tspan><tspan dy="2.5"> cells (×10</tspan><tspan font-size="4.5" dy="-2.5">6</tspan><tspan dy="2.5">)</tspan></text>
<circle cx="194.2" cy="161.8" r="1.6" fill="#111" stroke="none" stroke-width="0"/>
<text x="199.5" y="163.7" font-size="6.5" fill="#a8163a" text-anchor="start" stroke="#a8163a" stroke-width="0.1" textLength="17.5" lengthAdjust="spacingAndGlyphs">Vehicle</text>
<circle cx="194.2" cy="171.3" r="1.5" fill="#fff" stroke="#111" stroke-width="1.0"/>
<text x="199.5" y="173.1" font-size="6.5" fill="#3c9e3c" text-anchor="start" stroke="#3c9e3c" stroke-width="0.1" textLength="16.8" lengthAdjust="spacingAndGlyphs">rAREG</text>
<text transform="translate(282.3,152.8) scale(1.1,1)" x="0" y="0" font-size="10.5" fill="#111" text-anchor="start" stroke="#111" stroke-width="0.12" font-weight="bold">D</text>
<line x1="307.2" y1="157.3" x2="307.2" y2="252.2" stroke="#1a1a1a" stroke-width="1.5" stroke-linecap="butt"/>
<line x1="306.6" y1="252.2" x2="370" y2="252.2" stroke="#1a1a1a" stroke-width="1.5" stroke-linecap="butt"/>
<line x1="304" y1="252.2" x2="307.2" y2="252.2" stroke="#1a1a1a" stroke-width="1.0" stroke-linecap="butt"/>
<text x="301.5" y="254.79999999999998" font-size="7" fill="#262626" text-anchor="end" stroke="#262626" stroke-width="0.2" textLength="3.5" lengthAdjust="spacingAndGlyphs">0</text>
<line x1="304" y1="228.79999999999998" x2="307.2" y2="228.79999999999998" stroke="#1a1a1a" stroke-width="1.0" stroke-linecap="butt"/>
<text x="301.5" y="231.39999999999998" font-size="7" fill="#262626" text-anchor="end" stroke="#262626" stroke-width="0.2" textLength="7.0" lengthAdjust="spacingAndGlyphs">10</text>
<line x1="304" y1="205.39999999999998" x2="307.2" y2="205.39999999999998" stroke="#1a1a1a" stroke-width="1.0" stroke-linecap="butt"/>
<text x="301.5" y="207.99999999999997" font-size="7" fill="#262626" text-anchor="end" stroke="#262626" stroke-width="0.2" textLength="7.0" lengthAdjust="spacingAndGlyphs">20</text>
<line x1="304" y1="182.0" x2="307.2" y2="182.0" stroke="#1a1a1a" stroke-width="1.0" stroke-linecap="butt"/>
<text x="301.5" y="184.6" font-size="7" fill="#262626" text-anchor="end" stroke="#262626" stroke-width="0.2" textLength="7.0" lengthAdjust="spacingAndGlyphs">30</text>
<line x1="304" y1="158.6" x2="307.2" y2="158.6" stroke="#1a1a1a" stroke-width="1.0" stroke-linecap="butt"/>
<text x="301.5" y="161.2" font-size="7" fill="#262626" text-anchor="end" stroke="#262626" stroke-width="0.2" textLength="7.0" lengthAdjust="spacingAndGlyphs">40</text>
<line x1="325.5" y1="252.2" x2="325.5" y2="254.8" stroke="#1a1a1a" stroke-width="1.0" stroke-linecap="butt"/>
<line x1="351.5" y1="252.2" x2="351.5" y2="254.8" stroke="#1a1a1a" stroke-width="1.0" stroke-linecap="butt"/>
<rect x="316.7" y="186.9" width="17.3" height="65.3" fill="#cc0c2f"/>
<rect x="343.4" y="218.7" width="17.3" height="33.5" fill="#3aaa3a"/>
<line x1="325.5" y1="172.6" x2="325.5" y2="201.2" stroke="#111" stroke-width="1.0" stroke-linecap="butt"/>
<line x1="321.1" y1="172.6" x2="329.9" y2="172.6" stroke="#111" stroke-width="1.0" stroke-linecap="butt"/>
<line x1="321.1" y1="201.2" x2="329.9" y2="201.2" stroke="#111" stroke-width="1.0" stroke-linecap="butt"/>
<line x1="351.5" y1="210.5" x2="351.5" y2="227.3" stroke="#111" stroke-width="1.0" stroke-linecap="butt"/>
<line x1="347.1" y1="210.5" x2="355.9" y2="210.5" stroke="#111" stroke-width="1.0" stroke-linecap="butt"/>
<line x1="347.1" y1="227.3" x2="355.9" y2="227.3" stroke="#111" stroke-width="1.0" stroke-linecap="butt"/>
<circle cx="325.5" cy="166.3" r="1.9" fill="#111" stroke="none" stroke-width="0"/>
<circle cx="325.5" cy="180.2" r="1.9" fill="#111" stroke="none" stroke-width="0"/>
<circle cx="325.5" cy="184.9" r="1.9" fill="#111" stroke="none" stroke-width="0"/>
<circle cx="321.4" cy="190.3" r="1.9" fill="#111" stroke="none" stroke-width="0"/>
<circle cx="329.0" cy="192.8" r="1.9" fill="#111" stroke="none" stroke-width="0"/>
<circle cx="325.5" cy="209.1" r="1.9" fill="#111" stroke="none" stroke-width="0"/>
<circle cx="348" cy="210.8" r="1.95" fill="none" stroke="#111" stroke-width="0.9"/>
<circle cx="355.1" cy="210.4" r="1.95" fill="none" stroke="#111" stroke-width="0.9"/>
<circle cx="355.1" cy="215.5" r="1.95" fill="none" stroke="#111" stroke-width="0.9"/>
<circle cx="348" cy="218" r="1.95" fill="none" stroke="#111" stroke-width="0.9"/>
<circle cx="351.5" cy="234.5" r="1.95" fill="none" stroke="#111" stroke-width="0.9"/>
<circle cx="350.0" cy="205.0" r="0.95" fill="#222" stroke="none" stroke-width="0"/>
<circle cx="353.0" cy="205.0" r="0.95" fill="#222" stroke="none" stroke-width="0"/>
<text x="325.0" y="263.6" font-size="7" fill="#262626" text-anchor="middle" stroke="#262626" stroke-width="0.2" textLength="19.6" lengthAdjust="spacingAndGlyphs">Vehicle</text>
<text x="351.2" y="263.6" font-size="7" fill="#262626" text-anchor="middle" stroke="#262626" stroke-width="0.2" textLength="19.0" lengthAdjust="spacingAndGlyphs">rAREG</text>
<text transform="translate(289.4,204.3) rotate(-90)" x="0" y="0" font-size="7.5" fill="#262626" text-anchor="middle" stroke="#262626" stroke-width="0.2" textLength="68.5" lengthAdjust="spacingAndGlyphs">Donor-derived cells (%)</text>
<line x1="408.5" y1="150.3" x2="408.5" y2="252.3" stroke="#1a1a1a" stroke-width="1.5" stroke-linecap="butt"/>
<line x1="407.9" y1="252.3" x2="475.2" y2="252.3" stroke="#1a1a1a" stroke-width="1.5" stroke-linecap="butt"/>
<line x1="405.2" y1="252.3" x2="408.5" y2="252.3" stroke="#1a1a1a" stroke-width="1.0" stroke-linecap="butt"/>
<text x="402.3" y="254.9" font-size="7" fill="#262626" text-anchor="end" stroke="#262626" stroke-width="0.2" textLength="3.5" lengthAdjust="spacingAndGlyphs">0</text>
<line x1="405.2" y1="218.60000000000002" x2="408.5" y2="218.60000000000002" stroke="#1a1a1a" stroke-width="1.0" stroke-linecap="butt"/>
<text x="402.3" y="221.20000000000002" font-size="7" fill="#262626" text-anchor="end" stroke="#262626" stroke-width="0.2" textLength="3.5" lengthAdjust="spacingAndGlyphs">5</text>
<line x1="405.2" y1="184.9" x2="408.5" y2="184.9" stroke="#1a1a1a" stroke-width="1.0" stroke-linecap="butt"/>
<text x="402.3" y="187.5" font-size="7" fill="#262626" text-anchor="end" stroke="#262626" stroke-width="0.2" textLength="7.0" lengthAdjust="spacingAndGlyphs">10</text>
<line x1="405.2" y1="151.2" x2="408.5" y2="151.2" stroke="#1a1a1a" stroke-width="1.0" stroke-linecap="butt"/>
<text x="402.3" y="153.79999999999998" font-size="7" fill="#262626" text-anchor="end" stroke="#262626" stroke-width="0.2" textLength="7.0" lengthAdjust="spacingAndGlyphs">15</text>
<line x1="427.0" y1="252.3" x2="427.0" y2="254.8" stroke="#1a1a1a" stroke-width="1.0" stroke-linecap="butt"/>
<line x1="455.5" y1="252.3" x2="455.5" y2="254.8" stroke="#1a1a1a" stroke-width="1.0" stroke-linecap="butt"/>
<rect x="418.2" y="193.3" width="17.5" height="59.0" fill="#cc0c2f"/>
<rect x="446.4" y="223.1" width="17.9" height="29.2" fill="#3aaa3a"/>
<line x1="427.0" y1="177.1" x2="427.0" y2="209.5" stroke="#111" stroke-width="1.0" stroke-linecap="butt"/>
<line x1="422.6" y1="177.1" x2="431.4" y2="177.1" stroke="#111" stroke-width="1.0" stroke-linecap="butt"/>
<line x1="422.6" y1="209.5" x2="431.4" y2="209.5" stroke="#111" stroke-width="1.0" stroke-linecap="butt"/>
<line x1="455.5" y1="212.8" x2="455.5" y2="232.2" stroke="#111" stroke-width="1.0" stroke-linecap="butt"/>
<line x1="451.1" y1="212.8" x2="459.9" y2="212.8" stroke="#111" stroke-width="1.0" stroke-linecap="butt"/>
<line x1="451.1" y1="232.2" x2="459.9" y2="232.2" stroke="#111" stroke-width="1.0" stroke-linecap="butt"/>
<circle cx="427" cy="171.6" r="1.9" fill="#111" stroke="none" stroke-width="0"/>
<circle cx="427" cy="182.0" r="1.9" fill="#111" stroke="none" stroke-width="0"/>
<circle cx="428" cy="186.8" r="1.9" fill="#111" stroke="none" stroke-width="0"/>
<circle cx="427" cy="197" r="1.9" fill="#111" stroke="none" stroke-width="0"/>
<circle cx="428" cy="205" r="1.9" fill="#111" stroke="none" stroke-width="0"/>
<circle cx="428" cy="214.4" r="1.9" fill="#111" stroke="none" stroke-width="0"/>
<circle cx="447.8" cy="213.8" r="1.95" fill="none" stroke="#111" stroke-width="0.9"/>
<circle cx="455.7" cy="215.5" r="1.95" fill="none" stroke="#111" stroke-width="0.9"/>
<circle cx="455.7" cy="220.0" r="1.95" fill="none" stroke="#111" stroke-width="0.9"/>
<circle cx="463.2" cy="216.2" r="1.95" fill="none" stroke="#111" stroke-width="0.9"/>
<circle cx="455.7" cy="237.6" r="1.95" fill="none" stroke="#111" stroke-width="0.9"/>
<circle cx="454.0" cy="207.0" r="0.95" fill="#222" stroke="none" stroke-width="0"/>
<circle cx="457.0" cy="207.0" r="0.95" fill="#222" stroke="none" stroke-width="0"/>
<text x="427.5" y="264.6" font-size="7" fill="#262626" text-anchor="middle" stroke="#262626" stroke-width="0.2" textLength="20.4" lengthAdjust="spacingAndGlyphs">Vehicle</text>
<text x="455.5" y="263.7" font-size="7" fill="#262626" text-anchor="middle" stroke="#262626" stroke-width="0.2" textLength="18.5" lengthAdjust="spacingAndGlyphs">rAREG</text>
<text transform="translate(390.3,200.5) rotate(-90)" x="0" y="0" font-size="7.5" fill="#262626" text-anchor="middle" stroke="#262626" stroke-width="0.2" textLength="62" lengthAdjust="spacingAndGlyphs">CD45.2<tspan font-size="4.5" dy="-2.5">+</tspan><tspan dy="2.5"> cells (×10</tspan><tspan font-size="4.5" dy="-2.5">6</tspan><tspan dy="2.5">)</tspan></text>
<text transform="translate(5.4,302.6) scale(1.1,1)" x="0" y="0" font-size="10.5" fill="#111" text-anchor="start" stroke="#111" stroke-width="0.12" font-weight="bold">E</text>
<line x1="30.5" y1="309.8" x2="30.5" y2="383.0" stroke="#333" stroke-width="1.3" stroke-linecap="butt"/>
<line x1="30.0" y1="310.0" x2="143.0" y2="310.0" stroke="#333" stroke-width="1.4" stroke-linecap="butt"/>
<line x1="140.0" y1="309.5" x2="140.0" y2="383.5" stroke="#333" stroke-width="1.3" stroke-linecap="butt"/>
<line x1="30.0" y1="383.0" x2="140.5" y2="383.0" stroke="#333" stroke-width="1.3" stroke-linecap="butt"/>
<line x1="140.0" y1="324.0" x2="142.2" y2="324.0" stroke="#333" stroke-width="1.0" stroke-linecap="butt"/>
<line x1="140.0" y1="338.8" x2="142.2" y2="338.8" stroke="#333" stroke-width="1.0" stroke-linecap="butt"/>
<line x1="140.0" y1="353.8" x2="142.2" y2="353.8" stroke="#333" stroke-width="1.0" stroke-linecap="butt"/>
<line x1="140.0" y1="368.6" x2="142.2" y2="368.6" stroke="#333" stroke-width="1.0" stroke-linecap="butt"/>
<line x1="27.5" y1="309.8" x2="30.5" y2="309.8" stroke="#1a1a1a" stroke-width="1.0" stroke-linecap="butt"/>
<text x="24.8" y="312.40000000000003" font-size="7" fill="#262626" text-anchor="end" stroke="#262626" stroke-width="0.2" textLength="10.5" lengthAdjust="spacingAndGlyphs">100</text>
<line x1="27.5" y1="355.7" x2="30.5" y2="355.7" stroke="#1a1a1a" stroke-width="1.0" stroke-linecap="butt"/>
<text x="24.8" y="358.3" font-size="7" fill="#262626" text-anchor="end" stroke="#262626" stroke-width="0.2" textLength="7.0" lengthAdjust="spacingAndGlyphs">37</text>
<line x1="27.5" y1="383.0" x2="30.5" y2="383.0" stroke="#1a1a1a" stroke-width="1.0" stroke-linecap="butt"/>
<text x="24.8" y="385.6" font-size="7" fill="#262626" text-anchor="end" stroke="#262626" stroke-width="0.2" textLength="3.5" lengthAdjust="spacingAndGlyphs">0</text>
<line x1="30.5" y1="355.7" x2="139.3" y2="355.7" stroke="#222" stroke-width="1.1" stroke-dasharray="1.1,1.0" stroke-linecap="butt"/>
<line x1="30.8" y1="383.0" x2="30.8" y2="385.6" stroke="#1a1a1a" stroke-width="1.0" stroke-linecap="butt"/>
<text x="30.8" y="394.2" font-size="6.8" fill="#262626" text-anchor="middle" stroke="#262626" stroke-width="0.2" textLength="3.1" lengthAdjust="spacingAndGlyphs">0</text>
<line x1="52.36" y1="383.0" x2="52.36" y2="385.6" stroke="#1a1a1a" stroke-width="1.0" stroke-linecap="butt"/>
<text x="52.36" y="394.2" font-size="6.8" fill="#262626" text-anchor="middle" stroke="#262626" stroke-width="0.2" textLength="6.2" lengthAdjust="spacingAndGlyphs">50</text>
<line x1="73.92" y1="383.0" x2="73.92" y2="385.6" stroke="#1a1a1a" stroke-width="1.0" stroke-linecap="butt"/>
<text x="73.92" y="394.2" font-size="6.8" fill="#262626" text-anchor="middle" stroke="#262626" stroke-width="0.2" textLength="9.3" lengthAdjust="spacingAndGlyphs">100</text>
<line x1="95.47999999999999" y1="383.0" x2="95.47999999999999" y2="385.6" stroke="#1a1a1a" stroke-width="1.0" stroke-linecap="butt"/>
<text x="95.47999999999999" y="394.2" font-size="6.8" fill="#262626" text-anchor="middle" stroke="#262626" stroke-width="0.2" textLength="9.3" lengthAdjust="spacingAndGlyphs">150</text>
<line x1="117.03999999999999" y1="383.0" x2="117.03999999999999" y2="385.6" stroke="#1a1a1a" stroke-width="1.0" stroke-linecap="butt"/>
<text x="117.03999999999999" y="394.2" font-size="6.8" fill="#262626" text-anchor="middle" stroke="#262626" stroke-width="0.2" textLength="9.3" lengthAdjust="spacingAndGlyphs">200</text>
<line x1="138.6" y1="383.0" x2="138.6" y2="385.6" stroke="#1a1a1a" stroke-width="1.0" stroke-linecap="butt"/>
<text x="138.6" y="394.2" font-size="6.8" fill="#262626" text-anchor="middle" stroke="#262626" stroke-width="0.2" textLength="9.3" lengthAdjust="spacingAndGlyphs">250</text>
<text x="85.4" y="405.7" font-size="8.5" fill="#262626" text-anchor="middle" stroke="#262626" stroke-width="0.2" textLength="74" lengthAdjust="spacingAndGlyphs">#s of SLAMs transplanted</text>
<text transform="translate(11.6,346) rotate(-90)" x="0" y="0" font-size="8" fill="#262626" text-anchor="middle" stroke="#262626" stroke-width="0.2" textLength="66" lengthAdjust="spacingAndGlyphs">% negative recipients</text>
<line x1="30.7" y1="313.0" x2="138.3" y2="383.0" stroke="#3c9e3c" stroke-width="1.2" stroke-linecap="butt"/>
<line x1="30.7" y1="315.5" x2="77.0" y2="383.0" stroke="#a8163a" stroke-width="1.2" stroke-linecap="butt"/>
<circle cx="30.7" cy="309.8" r="1.8" fill="#111" stroke="none" stroke-width="0"/>
<circle cx="41.3" cy="320.9" r="1.6" fill="#3c9e3c" stroke="none" stroke-width="0"/>
<circle cx="52.8" cy="329.5" r="1.6" fill="#3c9e3c" stroke="none" stroke-width="0"/>
<circle cx="63.6" cy="332.7" r="1.6" fill="#3c9e3c" stroke="none" stroke-width="0"/>
<circle cx="74.6" cy="343.2" r="1.6" fill="#3c9e3c" stroke="none" stroke-width="0"/>
<circle cx="118" cy="368" r="1.6" fill="#3c9e3c" stroke="none" stroke-width="0"/>
<circle cx="41.3" cy="331.4" r="1.8" fill="#111" stroke="none" stroke-width="0"/>
<circle cx="52.7" cy="354.2" r="1.8" fill="#111" stroke="none" stroke-width="0"/>
<circle cx="63.7" cy="359.3" r="1.8" fill="#111" stroke="none" stroke-width="0"/>
<circle cx="74.9" cy="375.1" r="1.8" fill="#111" stroke="none" stroke-width="0"/>
<line x1="102" y1="315.5" x2="110.5" y2="315.5" stroke="#111" stroke-width="1.0" stroke-linecap="butt"/>
<circle cx="106.5" cy="315.5" r="1.7" fill="#111" stroke="none" stroke-width="0"/>
<text x="113.0" y="317.8" font-size="6.5" fill="#a8163a" text-anchor="start" stroke="#a8163a" stroke-width="0.1" textLength="18.5" lengthAdjust="spacingAndGlyphs">Vehicle</text>
<line x1="102" y1="324.0" x2="110.5" y2="324.0" stroke="#3c9e3c" stroke-width="1.0" stroke-linecap="butt"/>
<circle cx="106.5" cy="324.0" r="1.7" fill="#3c9e3c" stroke="none" stroke-width="0"/>
<text x="113.0" y="326.3" font-size="6.5" fill="#3c9e3c" text-anchor="start" stroke="#3c9e3c" stroke-width="0.1" textLength="17.5" lengthAdjust="spacingAndGlyphs">rAREG</text>
<text transform="translate(158.4,305.6) scale(1.1,1)" x="0" y="0" font-size="10.5" fill="#111" text-anchor="start" stroke="#111" stroke-width="0.12" font-weight="bold">F</text>
<line x1="189.3" y1="310.0" x2="189.3" y2="369.0" stroke="#1a1a1a" stroke-width="1.1" stroke-linecap="butt"/>
<line x1="188.8" y1="369.0" x2="225.9" y2="369.0" stroke="#1a1a1a" stroke-width="1.1" stroke-linecap="butt"/>
<line x1="186.3" y1="311.8" x2="189.3" y2="311.8" stroke="#1a1a1a" stroke-width="1.0" stroke-linecap="butt"/>
<text x="184.3" y="314.3" font-size="7" fill="#262626" text-anchor="end" stroke="#262626" stroke-width="0.2" textLength="6.8" lengthAdjust="spacingAndGlyphs">25</text>
<line x1="186.3" y1="323.3" x2="189.3" y2="323.3" stroke="#1a1a1a" stroke-width="1.0" stroke-linecap="butt"/>
<text x="184.3" y="325.8" font-size="7" fill="#262626" text-anchor="end" stroke="#262626" stroke-width="0.2" textLength="6.8" lengthAdjust="spacingAndGlyphs">20</text>
<line x1="186.3" y1="334.9" x2="189.3" y2="334.9" stroke="#1a1a1a" stroke-width="1.0" stroke-linecap="butt"/>
<text x="184.3" y="337.4" font-size="7" fill="#262626" text-anchor="end" stroke="#262626" stroke-width="0.2" textLength="6.8" lengthAdjust="spacingAndGlyphs">15</text>
<line x1="186.3" y1="346.3" x2="189.3" y2="346.3" stroke="#1a1a1a" stroke-width="1.0" stroke-linecap="butt"/>
<text x="184.3" y="348.8" font-size="7" fill="#262626" text-anchor="end" stroke="#262626" stroke-width="0.2" textLength="6.8" lengthAdjust="spacingAndGlyphs">10</text>
<line x1="186.3" y1="357.6" x2="189.3" y2="357.6" stroke="#1a1a1a" stroke-width="1.0" stroke-linecap="butt"/>
<text x="184.3" y="360.1" font-size="7" fill="#262626" text-anchor="end" stroke="#262626" stroke-width="0.2" textLength="3.4" lengthAdjust="spacingAndGlyphs">5</text>
<line x1="186.3" y1="369.0" x2="189.3" y2="369.0" stroke="#1a1a1a" stroke-width="1.0" stroke-linecap="butt"/>
<text x="184.3" y="371.5" font-size="7" fill="#262626" text-anchor="end" stroke="#262626" stroke-width="0.2" textLength="3.4" lengthAdjust="spacingAndGlyphs">0</text>
<rect x="192.5" y="345.7" width="5.5" height="23.30000000000001" fill="#cc0c2f"/>
<rect x="201.0" y="340.6" width="6.099999999999994" height="28.399999999999977" fill="#3aaa3a"/>
<rect x="209.7" y="332.0" width="6.0" height="37.0" fill="#1d4f8c"/>
<rect x="218.3" y="330.7" width="6.099999999999994" height="38.30000000000001" fill="#f5a01a"/>
<line x1="195.25" y1="369.0" x2="195.25" y2="371.0" stroke="#1a1a1a" stroke-width="0.9" stroke-linecap="butt"/>
<text x="195.25" y="380.0" font-size="7" fill="#262626" text-anchor="middle" stroke="#262626" stroke-width="0.2" textLength="3.5" lengthAdjust="spacingAndGlyphs">0</text>
<line x1="195.25" y1="342.8" x2="195.25" y2="348.59999999999997" stroke="#1a1a1a" stroke-width="0.8" stroke-linecap="butt"/>
<line x1="193.45" y1="342.8" x2="197.05" y2="342.8" stroke="#1a1a1a" stroke-width="0.8" stroke-linecap="butt"/>
<line x1="193.45" y1="348.59999999999997" x2="197.05" y2="348.59999999999997" stroke="#1a1a1a" stroke-width="0.8" stroke-linecap="butt"/>
<circle cx="194.2" cy="343.4" r="1.2" fill="#1a1a1a" stroke="none" stroke-width="0"/>
<circle cx="196.5" cy="344.2" r="1.2" fill="#1a1a1a" stroke="none" stroke-width="0"/>
<circle cx="197.0" cy="346.5" r="1.2" fill="#1a1a1a" stroke="none" stroke-width="0"/>
<line x1="204.05" y1="369.0" x2="204.05" y2="371.0" stroke="#1a1a1a" stroke-width="0.9" stroke-linecap="butt"/>
<text x="204.05" y="380.0" font-size="7" fill="#262626" text-anchor="middle" stroke="#262626" stroke-width="0.2" textLength="3.5" lengthAdjust="spacingAndGlyphs">5</text>
<line x1="204.05" y1="337.5" x2="204.05" y2="343.70000000000005" stroke="#1a1a1a" stroke-width="0.8" stroke-linecap="butt"/>
<line x1="202.25" y1="337.5" x2="205.85000000000002" y2="337.5" stroke="#1a1a1a" stroke-width="0.8" stroke-linecap="butt"/>
<line x1="202.25" y1="343.70000000000005" x2="205.85000000000002" y2="343.70000000000005" stroke="#1a1a1a" stroke-width="0.8" stroke-linecap="butt"/>
<circle cx="204.1" cy="337.1" r="1.2" fill="#fff" stroke="#1a1a1a" stroke-width="0.55"/>
<circle cx="202.5" cy="340.2" r="1.2" fill="#fff" stroke="#1a1a1a" stroke-width="0.55"/>
<circle cx="205.5" cy="341.2" r="1.2" fill="#fff" stroke="#1a1a1a" stroke-width="0.55"/>
<circle cx="204.05" cy="332.8" r="0.8" fill="#222" stroke="none" stroke-width="0"/>
<line x1="212.7" y1="369.0" x2="212.7" y2="371.0" stroke="#1a1a1a" stroke-width="0.9" stroke-linecap="butt"/>
<text x="212.7" y="380.0" font-size="7" fill="#262626" text-anchor="middle" stroke="#262626" stroke-width="0.2" textLength="7.0" lengthAdjust="spacingAndGlyphs">10</text>
<line x1="212.7" y1="329.5" x2="212.7" y2="334.5" stroke="#1a1a1a" stroke-width="0.8" stroke-linecap="butt"/>
<line x1="210.89999999999998" y1="329.5" x2="214.5" y2="329.5" stroke="#1a1a1a" stroke-width="0.8" stroke-linecap="butt"/>
<line x1="210.89999999999998" y1="334.5" x2="214.5" y2="334.5" stroke="#1a1a1a" stroke-width="0.8" stroke-linecap="butt"/>
<circle cx="212.0" cy="330.0" r="1.2" fill="#fff" stroke="#1a1a1a" stroke-width="0.55"/>
<circle cx="214.2" cy="332.0" r="1.2" fill="#fff" stroke="#1a1a1a" stroke-width="0.55"/>
<circle cx="211.0" cy="333.5" r="1.2" fill="#fff" stroke="#1a1a1a" stroke-width="0.55"/>
<circle cx="211.39999999999998" cy="325.9" r="0.8" fill="#222" stroke="none" stroke-width="0"/>
<circle cx="214.0" cy="325.9" r="0.8" fill="#222" stroke="none" stroke-width="0"/>
<line x1="221.35000000000002" y1="369.0" x2="221.35000000000002" y2="371.0" stroke="#1a1a1a" stroke-width="0.9" stroke-linecap="butt"/>
<text x="221.35000000000002" y="380.0" font-size="7" fill="#262626" text-anchor="middle" stroke="#262626" stroke-width="0.2" textLength="7.0" lengthAdjust="spacingAndGlyphs">15</text>
<line x1="221.35000000000002" y1="323.8" x2="221.35000000000002" y2="337.59999999999997" stroke="#1a1a1a" stroke-width="0.8" stroke-linecap="butt"/>
<line x1="219.55" y1="323.8" x2="223.15000000000003" y2="323.8" stroke="#1a1a1a" stroke-width="0.8" stroke-linecap="butt"/>
<line x1="219.55" y1="337.59999999999997" x2="223.15000000000003" y2="337.59999999999997" stroke="#1a1a1a" stroke-width="0.8" stroke-linecap="butt"/>
<circle cx="220.5" cy="337.6" r="1.2" fill="#1a1a1a" stroke="none" stroke-width="0"/>
<circle cx="222.0" cy="339.3" r="1.2" fill="#1a1a1a" stroke="none" stroke-width="0"/>
<circle cx="221.3" cy="324.6" r="1.2" fill="#fff" stroke="#1a1a1a" stroke-width="0.55"/>
<circle cx="222.2" cy="328.0" r="1.2" fill="#fff" stroke="#1a1a1a" stroke-width="0.55"/>
<circle cx="220.05" cy="320.7" r="0.8" fill="#222" stroke="none" stroke-width="0"/>
<circle cx="222.65000000000003" cy="320.7" r="0.8" fill="#222" stroke="none" stroke-width="0"/>
<text x="159.0" y="371.2" font-size="7" fill="#262626" text-anchor="start" stroke="#262626" stroke-width="0.2" textLength="19" lengthAdjust="spacingAndGlyphs">rAREG</text>
<text x="171.2" y="379.0" font-size="7" fill="#262626" text-anchor="start" stroke="#262626" stroke-width="0.2" textLength="6.8" lengthAdjust="spacingAndGlyphs">μg</text>
<text transform="translate(163.4,339.2) rotate(-90)" x="0" y="0" font-size="7.5" fill="#262626" text-anchor="middle" stroke="#262626" stroke-width="0.2" textLength="36" lengthAdjust="spacingAndGlyphs">BMCs/femur</text>
<text transform="translate(174.0,338.8) rotate(-90)" x="0" y="0" font-size="7.5" fill="#262626" text-anchor="middle" stroke="#262626" stroke-width="0.2" textLength="19.5" lengthAdjust="spacingAndGlyphs">(×10<tspan font-size="4.5" dy="-2.5">9</tspan><tspan dy="2.5">)</tspan></text>
<line x1="257.2" y1="308.2" x2="257.2" y2="369.0" stroke="#1a1a1a" stroke-width="1.1" stroke-linecap="butt"/>
<line x1="256.7" y1="369.0" x2="294.9" y2="369.0" stroke="#1a1a1a" stroke-width="1.1" stroke-linecap="butt"/>
<line x1="254.2" y1="310.3" x2="257.2" y2="310.3" stroke="#1a1a1a" stroke-width="1.0" stroke-linecap="butt"/>
<text x="252.2" y="312.8" font-size="7" fill="#262626" text-anchor="end" stroke="#262626" stroke-width="0.2" textLength="6.8" lengthAdjust="spacingAndGlyphs">15</text>
<line x1="254.2" y1="329.9" x2="257.2" y2="329.9" stroke="#1a1a1a" stroke-width="1.0" stroke-linecap="butt"/>
<text x="252.2" y="332.4" font-size="7" fill="#262626" text-anchor="end" stroke="#262626" stroke-width="0.2" textLength="6.8" lengthAdjust="spacingAndGlyphs">10</text>
<line x1="254.2" y1="349.5" x2="257.2" y2="349.5" stroke="#1a1a1a" stroke-width="1.0" stroke-linecap="butt"/>
<text x="252.2" y="352.0" font-size="7" fill="#262626" text-anchor="end" stroke="#262626" stroke-width="0.2" textLength="3.4" lengthAdjust="spacingAndGlyphs">5</text>
<line x1="254.2" y1="369.0" x2="257.2" y2="369.0" stroke="#1a1a1a" stroke-width="1.0" stroke-linecap="butt"/>
<text x="252.2" y="371.5" font-size="7" fill="#262626" text-anchor="end" stroke="#262626" stroke-width="0.2" textLength="3.4" lengthAdjust="spacingAndGlyphs">0</text>
<rect x="259.8" y="341.0" width="6.199999999999989" height="28.0" fill="#cc0c2f"/>
<rect x="268.5" y="335.7" width="6.699999999999989" height="33.30000000000001" fill="#3aaa3a"/>
<rect x="278.0" y="320.2" width="6.300000000000011" height="48.80000000000001" fill="#1d4f8c"/>
<rect x="286.7" y="326.6" width="6.699999999999989" height="42.39999999999998" fill="#f5a01a"/>
<line x1="262.9" y1="369.0" x2="262.9" y2="371.0" stroke="#1a1a1a" stroke-width="0.9" stroke-linecap="butt"/>
<text x="262.9" y="380.0" font-size="7" fill="#262626" text-anchor="middle" stroke="#262626" stroke-width="0.2" textLength="3.5" lengthAdjust="spacingAndGlyphs">0</text>
<line x1="262.9" y1="338.6" x2="262.9" y2="343.4" stroke="#1a1a1a" stroke-width="0.8" stroke-linecap="butt"/>
<line x1="261.09999999999997" y1="338.6" x2="264.7" y2="338.6" stroke="#1a1a1a" stroke-width="0.8" stroke-linecap="butt"/>
<line x1="261.09999999999997" y1="343.4" x2="264.7" y2="343.4" stroke="#1a1a1a" stroke-width="0.8" stroke-linecap="butt"/>
<circle cx="262.7" cy="336.2" r="1.2" fill="#1a1a1a" stroke="none" stroke-width="0"/>
<circle cx="264.0" cy="340.5" r="1.2" fill="#1a1a1a" stroke="none" stroke-width="0"/>
<line x1="271.85" y1="369.0" x2="271.85" y2="371.0" stroke="#1a1a1a" stroke-width="0.9" stroke-linecap="butt"/>
<text x="271.85" y="380.0" font-size="7" fill="#262626" text-anchor="middle" stroke="#262626" stroke-width="0.2" textLength="3.5" lengthAdjust="spacingAndGlyphs">5</text>
<line x1="271.85" y1="332.4" x2="271.85" y2="339.0" stroke="#1a1a1a" stroke-width="0.8" stroke-linecap="butt"/>
<line x1="270.05" y1="332.4" x2="273.65000000000003" y2="332.4" stroke="#1a1a1a" stroke-width="0.8" stroke-linecap="butt"/>
<line x1="270.05" y1="339.0" x2="273.65000000000003" y2="339.0" stroke="#1a1a1a" stroke-width="0.8" stroke-linecap="butt"/>
<circle cx="271.8" cy="328.5" r="1.2" fill="#fff" stroke="#1a1a1a" stroke-width="0.55"/>
<circle cx="270.5" cy="334.5" r="1.2" fill="#fff" stroke="#1a1a1a" stroke-width="0.55"/>
<circle cx="273.5" cy="336.0" r="1.2" fill="#fff" stroke="#1a1a1a" stroke-width="0.55"/>
<circle cx="271.85" cy="324.7" r="0.8" fill="#222" stroke="none" stroke-width="0"/>
<line x1="281.15" y1="369.0" x2="281.15" y2="371.0" stroke="#1a1a1a" stroke-width="0.9" stroke-linecap="butt"/>
<text x="281.15" y="380.0" font-size="7" fill="#262626" text-anchor="middle" stroke="#262626" stroke-width="0.2" textLength="7.0" lengthAdjust="spacingAndGlyphs">10</text>
<line x1="281.15" y1="318.5" x2="281.15" y2="321.9" stroke="#1a1a1a" stroke-width="0.8" stroke-linecap="butt"/>
<line x1="279.34999999999997" y1="318.5" x2="282.95" y2="318.5" stroke="#1a1a1a" stroke-width="0.8" stroke-linecap="butt"/>
<line x1="279.34999999999997" y1="321.9" x2="282.95" y2="321.9" stroke="#1a1a1a" stroke-width="0.8" stroke-linecap="butt"/>
<circle cx="280.0" cy="320.0" r="1.2" fill="#fff" stroke="#1a1a1a" stroke-width="0.55"/>
<circle cx="282.0" cy="320.5" r="1.2" fill="#fff" stroke="#1a1a1a" stroke-width="0.55"/>
<circle cx="280.5" cy="323.8" r="1.2" fill="#fff" stroke="#1a1a1a" stroke-width="0.55"/>
<circle cx="283.0" cy="323.8" r="1.2" fill="#fff" stroke="#1a1a1a" stroke-width="0.55"/>
<circle cx="279.84999999999997" cy="316.0" r="0.8" fill="#222" stroke="none" stroke-width="0"/>
<circle cx="282.45" cy="316.0" r="0.8" fill="#222" stroke="none" stroke-width="0"/>
<line x1="290.04999999999995" y1="369.0" x2="290.04999999999995" y2="371.0" stroke="#1a1a1a" stroke-width="0.9" stroke-linecap="butt"/>
<text x="290.04999999999995" y="380.0" font-size="7" fill="#262626" text-anchor="middle" stroke="#262626" stroke-width="0.2" textLength="7.0" lengthAdjust="spacingAndGlyphs">15</text>
<line x1="290.04999999999995" y1="318.5" x2="290.04999999999995" y2="334.70000000000005" stroke="#1a1a1a" stroke-width="0.8" stroke-linecap="butt"/>
<line x1="288.24999999999994" y1="318.5" x2="291.84999999999997" y2="318.5" stroke="#1a1a1a" stroke-width="0.8" stroke-linecap="butt"/>
<line x1="288.24999999999994" y1="334.70000000000005" x2="291.84999999999997" y2="334.70000000000005" stroke="#1a1a1a" stroke-width="0.8" stroke-linecap="butt"/>
<circle cx="289.5" cy="327.6" r="1.2" fill="#1a1a1a" stroke="none" stroke-width="0"/>
<circle cx="291.5" cy="330.0" r="1.2" fill="#1a1a1a" stroke="none" stroke-width="0"/>
<circle cx="290.5" cy="334.3" r="1.2" fill="#1a1a1a" stroke="none" stroke-width="0"/>
<circle cx="289.0" cy="319.0" r="1.2" fill="#fff" stroke="#1a1a1a" stroke-width="0.55"/>
<circle cx="291.8" cy="318.5" r="1.2" fill="#fff" stroke="#1a1a1a" stroke-width="0.55"/>
<circle cx="288.74999999999994" cy="315.0" r="0.8" fill="#222" stroke="none" stroke-width="0"/>
<circle cx="291.34999999999997" cy="315.0" r="0.8" fill="#222" stroke="none" stroke-width="0"/>
<text transform="translate(239.5,338.3) rotate(-90)" x="0" y="0" font-size="8" fill="#262626" text-anchor="middle" stroke="#262626" stroke-width="0.2" textLength="46" lengthAdjust="spacingAndGlyphs">% of HSC in LSK</text>
<line x1="329.5" y1="308.2" x2="329.5" y2="369.0" stroke="#1a1a1a" stroke-width="1.1" stroke-linecap="butt"/>
<line x1="329.0" y1="369.0" x2="367.1" y2="369.0" stroke="#1a1a1a" stroke-width="1.1" stroke-linecap="butt"/>
<line x1="326.5" y1="310.3" x2="329.5" y2="310.3" stroke="#1a1a1a" stroke-width="1.0" stroke-linecap="butt"/>
<text x="324.5" y="312.8" font-size="7" fill="#262626" text-anchor="end" stroke="#262626" stroke-width="0.2" textLength="10.2" lengthAdjust="spacingAndGlyphs">100</text>
<line x1="326.5" y1="322.0" x2="329.5" y2="322.0" stroke="#1a1a1a" stroke-width="1.0" stroke-linecap="butt"/>
<text x="324.5" y="324.5" font-size="7" fill="#262626" text-anchor="end" stroke="#262626" stroke-width="0.2" textLength="6.8" lengthAdjust="spacingAndGlyphs">80</text>
<line x1="326.5" y1="333.7" x2="329.5" y2="333.7" stroke="#1a1a1a" stroke-width="1.0" stroke-linecap="butt"/>
<text x="324.5" y="336.2" font-size="7" fill="#262626" text-anchor="end" stroke="#262626" stroke-width="0.2" textLength="6.8" lengthAdjust="spacingAndGlyphs">60</text>
<line x1="326.5" y1="345.4" x2="329.5" y2="345.4" stroke="#1a1a1a" stroke-width="1.0" stroke-linecap="butt"/>
<text x="324.5" y="347.9" font-size="7" fill="#262626" text-anchor="end" stroke="#262626" stroke-width="0.2" textLength="6.8" lengthAdjust="spacingAndGlyphs">40</text>
<line x1="326.5" y1="357.2" x2="329.5" y2="357.2" stroke="#1a1a1a" stroke-width="1.0" stroke-linecap="butt"/>
<text x="324.5" y="359.7" font-size="7" fill="#262626" text-anchor="end" stroke="#262626" stroke-width="0.2" textLength="6.8" lengthAdjust="spacingAndGlyphs">20</text>
<line x1="326.5" y1="369.0" x2="329.5" y2="369.0" stroke="#1a1a1a" stroke-width="1.0" stroke-linecap="butt"/>
<text x="324.5" y="371.5" font-size="7" fill="#262626" text-anchor="end" stroke="#262626" stroke-width="0.2" textLength="3.4" lengthAdjust="spacingAndGlyphs">0</text>
<rect x="332.3" y="335.6" width="6.399999999999977" height="33.39999999999998" fill="#cc0c2f"/>
<rect x="341.3" y="330.4" width="6.300000000000011" height="38.60000000000002" fill="#3aaa3a"/>
<rect x="350.3" y="323.5" width="6.300000000000011" height="45.5" fill="#1d4f8c"/>
<rect x="359.2" y="322.0" width="6.400000000000034" height="47.0" fill="#f5a01a"/>
<line x1="335.5" y1="369.0" x2="335.5" y2="371.0" stroke="#1a1a1a" stroke-width="0.9" stroke-linecap="butt"/>
<text x="335.5" y="380.0" font-size="7" fill="#262626" text-anchor="middle" stroke="#262626" stroke-width="0.2" textLength="3.5" lengthAdjust="spacingAndGlyphs">0</text>
<line x1="335.5" y1="329.5" x2="335.5" y2="341.70000000000005" stroke="#1a1a1a" stroke-width="0.8" stroke-linecap="butt"/>
<line x1="333.7" y1="329.5" x2="337.3" y2="329.5" stroke="#1a1a1a" stroke-width="0.8" stroke-linecap="butt"/>
<line x1="333.7" y1="341.70000000000005" x2="337.3" y2="341.70000000000005" stroke="#1a1a1a" stroke-width="0.8" stroke-linecap="butt"/>
<circle cx="335.0" cy="329.5" r="1.2" fill="#1a1a1a" stroke="none" stroke-width="0"/>
<circle cx="336.5" cy="328.8" r="1.2" fill="#1a1a1a" stroke="none" stroke-width="0"/>
<circle cx="334.5" cy="332.5" r="1.2" fill="#1a1a1a" stroke="none" stroke-width="0"/>
<line x1="344.45000000000005" y1="369.0" x2="344.45000000000005" y2="371.0" stroke="#1a1a1a" stroke-width="0.9" stroke-linecap="butt"/>
<text x="344.45000000000005" y="380.0" font-size="7" fill="#262626" text-anchor="middle" stroke="#262626" stroke-width="0.2" textLength="3.5" lengthAdjust="spacingAndGlyphs">5</text>
<line x1="344.45000000000005" y1="327.0" x2="344.45000000000005" y2="333.79999999999995" stroke="#1a1a1a" stroke-width="0.8" stroke-linecap="butt"/>
<line x1="342.65000000000003" y1="327.0" x2="346.25000000000006" y2="327.0" stroke="#1a1a1a" stroke-width="0.8" stroke-linecap="butt"/>
<line x1="342.65000000000003" y1="333.79999999999995" x2="346.25000000000006" y2="333.79999999999995" stroke="#1a1a1a" stroke-width="0.8" stroke-linecap="butt"/>
<circle cx="342.5" cy="326.2" r="1.2" fill="#fff" stroke="#1a1a1a" stroke-width="0.55"/>
<circle cx="345.5" cy="327.7" r="1.2" fill="#fff" stroke="#1a1a1a" stroke-width="0.55"/>
<circle cx="343.5" cy="329.0" r="1.2" fill="#fff" stroke="#1a1a1a" stroke-width="0.55"/>
<circle cx="344.45000000000005" cy="323.0" r="0.8" fill="#222" stroke="none" stroke-width="0"/>
<line x1="353.45000000000005" y1="369.0" x2="353.45000000000005" y2="371.0" stroke="#1a1a1a" stroke-width="0.9" stroke-linecap="butt"/>
<text x="353.45000000000005" y="380.0" font-size="7" fill="#262626" text-anchor="middle" stroke="#262626" stroke-width="0.2" textLength="7.0" lengthAdjust="spacingAndGlyphs">10</text>
<line x1="353.45000000000005" y1="321.5" x2="353.45000000000005" y2="325.5" stroke="#1a1a1a" stroke-width="0.8" stroke-linecap="butt"/>
<line x1="351.65000000000003" y1="321.5" x2="355.25000000000006" y2="321.5" stroke="#1a1a1a" stroke-width="0.8" stroke-linecap="butt"/>
<line x1="351.65000000000003" y1="325.5" x2="355.25000000000006" y2="325.5" stroke="#1a1a1a" stroke-width="0.8" stroke-linecap="butt"/>
<circle cx="352.0" cy="324.0" r="1.2" fill="#fff" stroke="#1a1a1a" stroke-width="0.55"/>
<circle cx="355.0" cy="322.5" r="1.2" fill="#fff" stroke="#1a1a1a" stroke-width="0.55"/>
<circle cx="352.15000000000003" cy="318.8" r="0.8" fill="#222" stroke="none" stroke-width="0"/>
<circle cx="354.75000000000006" cy="318.8" r="0.8" fill="#222" stroke="none" stroke-width="0"/>
<line x1="362.4" y1="369.0" x2="362.4" y2="371.0" stroke="#1a1a1a" stroke-width="0.9" stroke-linecap="butt"/>
<text x="362.4" y="380.0" font-size="7" fill="#262626" text-anchor="middle" stroke="#262626" stroke-width="0.2" textLength="7.0" lengthAdjust="spacingAndGlyphs">15</text>
<line x1="362.4" y1="317.8" x2="362.4" y2="326.2" stroke="#1a1a1a" stroke-width="0.8" stroke-linecap="butt"/>
<line x1="360.59999999999997" y1="317.8" x2="364.2" y2="317.8" stroke="#1a1a1a" stroke-width="0.8" stroke-linecap="butt"/>
<line x1="360.59999999999997" y1="326.2" x2="364.2" y2="326.2" stroke="#1a1a1a" stroke-width="0.8" stroke-linecap="butt"/>
<circle cx="362.0" cy="328.3" r="1.2" fill="#1a1a1a" stroke="none" stroke-width="0"/>
<circle cx="362.0" cy="317.7" r="1.2" fill="#fff" stroke="#1a1a1a" stroke-width="0.55"/>
<circle cx="362.5" cy="321.4" r="1.2" fill="#fff" stroke="#1a1a1a" stroke-width="0.55"/>
<circle cx="360.8" cy="322.0" r="1.2" fill="#fff" stroke="#1a1a1a" stroke-width="0.55"/>
<circle cx="361.09999999999997" cy="314.0" r="0.8" fill="#222" stroke="none" stroke-width="0"/>
<circle cx="363.7" cy="314.0" r="0.8" fill="#222" stroke="none" stroke-width="0"/>
<text transform="translate(309.3,337.9) rotate(-90)" x="0" y="0" font-size="8" fill="#262626" text-anchor="middle" stroke="#262626" stroke-width="0.2" textLength="59.5" lengthAdjust="spacingAndGlyphs">% of mbHSC in HSC</text>
<line x1="401.6" y1="308.2" x2="401.6" y2="369.0" stroke="#1a1a1a" stroke-width="1.1" stroke-linecap="butt"/>
<line x1="401.1" y1="369.0" x2="440.2" y2="369.0" stroke="#1a1a1a" stroke-width="1.1" stroke-linecap="butt"/>
<line x1="398.6" y1="310.4" x2="401.6" y2="310.4" stroke="#1a1a1a" stroke-width="1.0" stroke-linecap="butt"/>
<text x="396.6" y="312.9" font-size="7" fill="#262626" text-anchor="end" stroke="#262626" stroke-width="0.2" textLength="6.8" lengthAdjust="spacingAndGlyphs">15</text>
<line x1="398.6" y1="330.0" x2="401.6" y2="330.0" stroke="#1a1a1a" stroke-width="1.0" stroke-linecap="butt"/>
<text x="396.6" y="332.5" font-size="7" fill="#262626" text-anchor="end" stroke="#262626" stroke-width="0.2" textLength="6.8" lengthAdjust="spacingAndGlyphs">10</text>
<line x1="398.6" y1="349.5" x2="401.6" y2="349.5" stroke="#1a1a1a" stroke-width="1.0" stroke-linecap="butt"/>
<text x="396.6" y="352.0" font-size="7" fill="#262626" text-anchor="end" stroke="#262626" stroke-width="0.2" textLength="3.4" lengthAdjust="spacingAndGlyphs">5</text>
<line x1="398.6" y1="369.0" x2="401.6" y2="369.0" stroke="#1a1a1a" stroke-width="1.0" stroke-linecap="butt"/>
<text x="396.6" y="371.5" font-size="7" fill="#262626" text-anchor="end" stroke="#262626" stroke-width="0.2" textLength="3.4" lengthAdjust="spacingAndGlyphs">0</text>
<rect x="404.5" y="354.8" width="6.5" height="14.199999999999989" fill="#cc0c2f"/>
<rect x="413.5" y="348.0" width="6.5" height="21.0" fill="#3aaa3a"/>
<rect x="422.4" y="332.5" width="6.600000000000023" height="36.5" fill="#1d4f8c"/>
<rect x="431.4" y="331.7" width="7.300000000000011" height="37.30000000000001" fill="#f5a01a"/>
<line x1="407.75" y1="369.0" x2="407.75" y2="371.0" stroke="#1a1a1a" stroke-width="0.9" stroke-linecap="butt"/>
<text x="407.75" y="380.0" font-size="7" fill="#262626" text-anchor="middle" stroke="#262626" stroke-width="0.2" textLength="3.5" lengthAdjust="spacingAndGlyphs">0</text>
<line x1="407.75" y1="351.2" x2="407.75" y2="358.40000000000003" stroke="#1a1a1a" stroke-width="0.8" stroke-linecap="butt"/>
<line x1="405.95" y1="351.2" x2="409.55" y2="351.2" stroke="#1a1a1a" stroke-width="0.8" stroke-linecap="butt"/>
<line x1="405.95" y1="358.40000000000003" x2="409.55" y2="358.40000000000003" stroke="#1a1a1a" stroke-width="0.8" stroke-linecap="butt"/>
<circle cx="407.0" cy="352.0" r="1.2" fill="#1a1a1a" stroke="none" stroke-width="0"/>
<circle cx="409.5" cy="352.5" r="1.2" fill="#1a1a1a" stroke="none" stroke-width="0"/>
<circle cx="408.0" cy="355.5" r="1.2" fill="#1a1a1a" stroke="none" stroke-width="0"/>
<line x1="416.75" y1="369.0" x2="416.75" y2="371.0" stroke="#1a1a1a" stroke-width="0.9" stroke-linecap="butt"/>
<text x="416.75" y="380.0" font-size="7" fill="#262626" text-anchor="middle" stroke="#262626" stroke-width="0.2" textLength="3.5" lengthAdjust="spacingAndGlyphs">5</text>
<line x1="416.75" y1="343.0" x2="416.75" y2="353.0" stroke="#1a1a1a" stroke-width="0.8" stroke-linecap="butt"/>
<line x1="414.95" y1="343.0" x2="418.55" y2="343.0" stroke="#1a1a1a" stroke-width="0.8" stroke-linecap="butt"/>
<line x1="414.95" y1="353.0" x2="418.55" y2="353.0" stroke="#1a1a1a" stroke-width="0.8" stroke-linecap="butt"/>
<circle cx="415.0" cy="344.0" r="1.2" fill="#fff" stroke="#1a1a1a" stroke-width="0.55"/>
<circle cx="417.5" cy="340.8" r="1.2" fill="#fff" stroke="#1a1a1a" stroke-width="0.55"/>
<circle cx="418.5" cy="345.0" r="1.2" fill="#fff" stroke="#1a1a1a" stroke-width="0.55"/>
<circle cx="415.45" cy="336.6" r="0.8" fill="#222" stroke="none" stroke-width="0"/>
<circle cx="418.05" cy="336.6" r="0.8" fill="#222" stroke="none" stroke-width="0"/>
<line x1="425.7" y1="369.0" x2="425.7" y2="371.0" stroke="#1a1a1a" stroke-width="0.9" stroke-linecap="butt"/>
<text x="425.7" y="380.0" font-size="7" fill="#262626" text-anchor="middle" stroke="#262626" stroke-width="0.2" textLength="7.0" lengthAdjust="spacingAndGlyphs">10</text>
<line x1="425.7" y1="328.4" x2="425.7" y2="336.6" stroke="#1a1a1a" stroke-width="0.8" stroke-linecap="butt"/>
<line x1="423.9" y1="328.4" x2="427.5" y2="328.4" stroke="#1a1a1a" stroke-width="0.8" stroke-linecap="butt"/>
<line x1="423.9" y1="336.6" x2="427.5" y2="336.6" stroke="#1a1a1a" stroke-width="0.8" stroke-linecap="butt"/>
<circle cx="425.7" cy="323.5" r="1.2" fill="#fff" stroke="#1a1a1a" stroke-width="0.55"/>
<circle cx="423.09999999999997" cy="319.5" r="0.8" fill="#222" stroke="none" stroke-width="0"/>
<circle cx="425.7" cy="319.5" r="0.8" fill="#222" stroke="none" stroke-width="0"/>
<circle cx="428.3" cy="319.5" r="0.8" fill="#222" stroke="none" stroke-width="0"/>
<line x1="435.04999999999995" y1="369.0" x2="435.04999999999995" y2="371.0" stroke="#1a1a1a" stroke-width="0.9" stroke-linecap="butt"/>
<text x="435.04999999999995" y="380.0" font-size="7" fill="#262626" text-anchor="middle" stroke="#262626" stroke-width="0.2" textLength="7.0" lengthAdjust="spacingAndGlyphs">15</text>
<line x1="435.04999999999995" y1="322.0" x2="435.04999999999995" y2="341.4" stroke="#1a1a1a" stroke-width="0.8" stroke-linecap="butt"/>
<line x1="433.24999999999994" y1="322.0" x2="436.84999999999997" y2="322.0" stroke="#1a1a1a" stroke-width="0.8" stroke-linecap="butt"/>
<line x1="433.24999999999994" y1="341.4" x2="436.84999999999997" y2="341.4" stroke="#1a1a1a" stroke-width="0.8" stroke-linecap="butt"/>
<circle cx="433.0" cy="336.6" r="1.2" fill="#1a1a1a" stroke="none" stroke-width="0"/>
<circle cx="435.5" cy="343.0" r="1.2" fill="#1a1a1a" stroke="none" stroke-width="0"/>
<circle cx="434.6" cy="316.2" r="1.2" fill="#fff" stroke="#1a1a1a" stroke-width="0.55"/>
<circle cx="433.74999999999994" cy="312.1" r="0.8" fill="#222" stroke="none" stroke-width="0"/>
<circle cx="436.34999999999997" cy="312.1" r="0.8" fill="#222" stroke="none" stroke-width="0"/>
<text transform="translate(384.2,336.0) rotate(-90)" x="0" y="0" font-size="7.5" fill="#262626" text-anchor="middle" stroke="#262626" stroke-width="0.2" textLength="52" lengthAdjust="spacingAndGlyphs">HSCs/femur (×10<tspan font-size="4.5" dy="-2.5">3</tspan><tspan dy="2.5">)</tspan></text>
<line x1="473.6" y1="308.2" x2="473.6" y2="369.0" stroke="#1a1a1a" stroke-width="1.1" stroke-linecap="butt"/>
<line x1="473.1" y1="369.0" x2="512.2" y2="369.0" stroke="#1a1a1a" stroke-width="1.1" stroke-linecap="butt"/>
<line x1="470.6" y1="310.4" x2="473.6" y2="310.4" stroke="#1a1a1a" stroke-width="1.0" stroke-linecap="butt"/>
<text x="468.6" y="312.9" font-size="7" fill="#262626" text-anchor="end" stroke="#262626" stroke-width="0.2" textLength="6.8" lengthAdjust="spacingAndGlyphs">15</text>
<line x1="470.6" y1="330.0" x2="473.6" y2="330.0" stroke="#1a1a1a" stroke-width="1.0" stroke-linecap="butt"/>
<text x="468.6" y="332.5" font-size="7" fill="#262626" text-anchor="end" stroke="#262626" stroke-width="0.2" textLength="6.8" lengthAdjust="spacingAndGlyphs">10</text>
<line x1="470.6" y1="349.5" x2="473.6" y2="349.5" stroke="#1a1a1a" stroke-width="1.0" stroke-linecap="butt"/>
<text x="468.6" y="352.0" font-size="7" fill="#262626" text-anchor="end" stroke="#262626" stroke-width="0.2" textLength="3.4" lengthAdjust="spacingAndGlyphs">5</text>
<line x1="470.6" y1="369.0" x2="473.6" y2="369.0" stroke="#1a1a1a" stroke-width="1.0" stroke-linecap="butt"/>
<text x="468.6" y="371.5" font-size="7" fill="#262626" text-anchor="end" stroke="#262626" stroke-width="0.2" textLength="3.4" lengthAdjust="spacingAndGlyphs">0</text>
<rect x="476.5" y="359.4" width="6.5" height="9.600000000000023" fill="#cc0c2f"/>
<rect x="485.5" y="353.7" width="6.5" height="15.300000000000011" fill="#3aaa3a"/>
<rect x="494.4" y="341.1" width="6.600000000000023" height="27.899999999999977" fill="#1d4f8c"/>
<rect x="503.4" y="339.0" width="7.300000000000011" height="30.0" fill="#f5a01a"/>
<line x1="479.75" y1="369.0" x2="479.75" y2="371.0" stroke="#1a1a1a" stroke-width="0.9" stroke-linecap="butt"/>
<text x="479.75" y="380.0" font-size="7" fill="#262626" text-anchor="middle" stroke="#262626" stroke-width="0.2" textLength="3.5" lengthAdjust="spacingAndGlyphs">0</text>
<line x1="479.75" y1="357.0" x2="479.75" y2="361.79999999999995" stroke="#1a1a1a" stroke-width="0.8" stroke-linecap="butt"/>
<line x1="477.95" y1="357.0" x2="481.55" y2="357.0" stroke="#1a1a1a" stroke-width="0.8" stroke-linecap="butt"/>
<line x1="477.95" y1="361.79999999999995" x2="481.55" y2="361.79999999999995" stroke="#1a1a1a" stroke-width="0.8" stroke-linecap="butt"/>
<circle cx="479.5" cy="357.5" r="1.2" fill="#1a1a1a" stroke="none" stroke-width="0"/>
<line x1="488.75" y1="369.0" x2="488.75" y2="371.0" stroke="#1a1a1a" stroke-width="0.9" stroke-linecap="butt"/>
<text x="488.75" y="380.0" font-size="7" fill="#262626" text-anchor="middle" stroke="#262626" stroke-width="0.2" textLength="3.5" lengthAdjust="spacingAndGlyphs">5</text>
<line x1="488.75" y1="350.4" x2="488.75" y2="357.0" stroke="#1a1a1a" stroke-width="0.8" stroke-linecap="butt"/>
<line x1="486.95" y1="350.4" x2="490.55" y2="350.4" stroke="#1a1a1a" stroke-width="0.8" stroke-linecap="butt"/>
<line x1="486.95" y1="357.0" x2="490.55" y2="357.0" stroke="#1a1a1a" stroke-width="0.8" stroke-linecap="butt"/>
<circle cx="488.0" cy="351.0" r="1.2" fill="#fff" stroke="#1a1a1a" stroke-width="0.55"/>
<circle cx="490.5" cy="349.0" r="1.2" fill="#fff" stroke="#1a1a1a" stroke-width="0.55"/>
<circle cx="487.45" cy="344.7" r="0.8" fill="#222" stroke="none" stroke-width="0"/>
<circle cx="490.05" cy="344.7" r="0.8" fill="#222" stroke="none" stroke-width="0"/>
<line x1="497.7" y1="369.0" x2="497.7" y2="371.0" stroke="#1a1a1a" stroke-width="0.9" stroke-linecap="butt"/>
<text x="497.7" y="380.0" font-size="7" fill="#262626" text-anchor="middle" stroke="#262626" stroke-width="0.2" textLength="7.0" lengthAdjust="spacingAndGlyphs">10</text>
<line x1="497.7" y1="337.4" x2="497.7" y2="344.80000000000007" stroke="#1a1a1a" stroke-width="0.8" stroke-linecap="butt"/>
<line x1="495.9" y1="337.4" x2="499.5" y2="337.4" stroke="#1a1a1a" stroke-width="0.8" stroke-linecap="butt"/>
<line x1="495.9" y1="344.80000000000007" x2="499.5" y2="344.80000000000007" stroke="#1a1a1a" stroke-width="0.8" stroke-linecap="butt"/>
<circle cx="497.7" cy="332.5" r="1.2" fill="#fff" stroke="#1a1a1a" stroke-width="0.55"/>
<circle cx="495.09999999999997" cy="328.4" r="0.8" fill="#222" stroke="none" stroke-width="0"/>
<circle cx="497.7" cy="328.4" r="0.8" fill="#222" stroke="none" stroke-width="0"/>
<circle cx="500.3" cy="328.4" r="0.8" fill="#222" stroke="none" stroke-width="0"/>
<line x1="507.04999999999995" y1="369.0" x2="507.04999999999995" y2="371.0" stroke="#1a1a1a" stroke-width="0.9" stroke-linecap="butt"/>
<text x="507.04999999999995" y="380.0" font-size="7" fill="#262626" text-anchor="middle" stroke="#262626" stroke-width="0.2" textLength="7.0" lengthAdjust="spacingAndGlyphs">15</text>
<line x1="507.04999999999995" y1="330.0" x2="507.04999999999995" y2="348.0" stroke="#1a1a1a" stroke-width="0.8" stroke-linecap="butt"/>
<line x1="505.24999999999994" y1="330.0" x2="508.84999999999997" y2="330.0" stroke="#1a1a1a" stroke-width="0.8" stroke-linecap="butt"/>
<line x1="505.24999999999994" y1="348.0" x2="508.84999999999997" y2="348.0" stroke="#1a1a1a" stroke-width="0.8" stroke-linecap="butt"/>
<circle cx="506.6" cy="321.9" r="1.2" fill="#fff" stroke="#1a1a1a" stroke-width="0.55"/>
<circle cx="505.0" cy="338.0" r="1.2" fill="#fff" stroke="#1a1a1a" stroke-width="0.55"/>
<circle cx="509.0" cy="341.5" r="1.2" fill="#fff" stroke="#1a1a1a" stroke-width="0.55"/>
<circle cx="505.74999999999994" cy="317.8" r="0.8" fill="#222" stroke="none" stroke-width="0"/>
<circle cx="508.34999999999997" cy="317.8" r="0.8" fill="#222" stroke="none" stroke-width="0"/>
<text transform="translate(456.2,335.2) rotate(-90)" x="0" y="0" font-size="7.5" fill="#262626" text-anchor="middle" stroke="#262626" stroke-width="0.2" textLength="59.5" lengthAdjust="spacingAndGlyphs">mbHSC/femur (×10<tspan font-size="4.5" dy="-2.5">3</tspan><tspan dy="2.5">)</tspan></text>
<rect x="0" y="0" width="520" height="0.9" fill="#505050"/>
<rect x="0" y="0" width="1.0" height="417" fill="#505050"/>
<rect x="518.5" y="0" width="1.5" height="417" fill="#505050"/>
<rect x="0" y="415.9" width="520" height="1.1" fill="#505050"/>
</svg>
</body></html>
